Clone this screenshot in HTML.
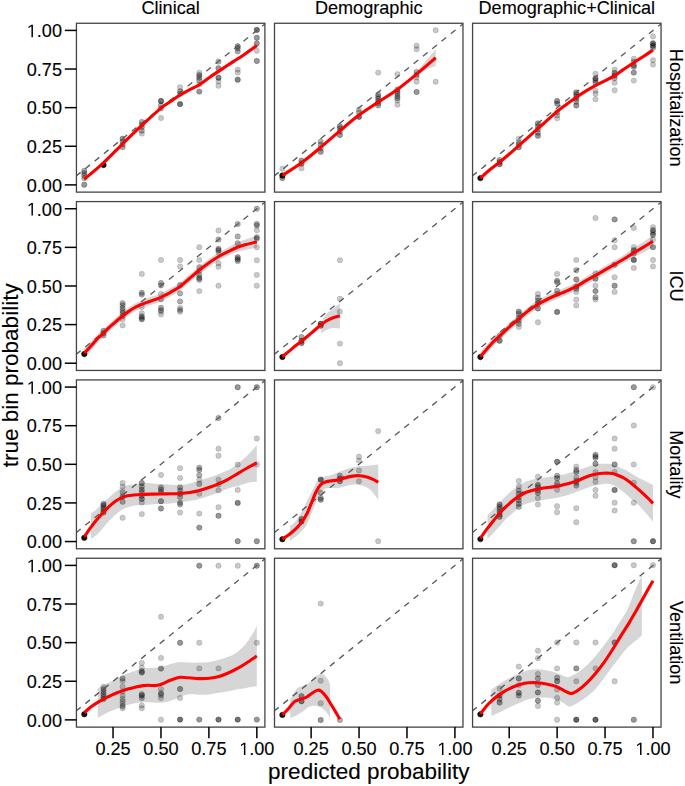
<!DOCTYPE html><html><head><meta charset="utf-8"><style>html,body{margin:0;padding:0;background:#fff;}svg{display:block;}text{font-family:"Liberation Sans",sans-serif;stroke:#000;stroke-width:0.12px;}</style></head><body>
<svg width="685" height="786" viewBox="0 0 685 786">
<rect width="685" height="786" fill="#fff"/>
<defs>
<clipPath id="cp00"><rect x="76.43" y="23.26" width="188.47" height="168.86"/></clipPath>
<clipPath id="cp01"><rect x="274.50" y="23.26" width="188.47" height="168.86"/></clipPath>
<clipPath id="cp02"><rect x="472.57" y="23.26" width="188.47" height="168.86"/></clipPath>
<clipPath id="cp10"><rect x="76.43" y="201.59" width="188.47" height="168.86"/></clipPath>
<clipPath id="cp11"><rect x="274.50" y="201.59" width="188.47" height="168.86"/></clipPath>
<clipPath id="cp12"><rect x="472.57" y="201.59" width="188.47" height="168.86"/></clipPath>
<clipPath id="cp20"><rect x="76.43" y="379.92" width="188.47" height="168.86"/></clipPath>
<clipPath id="cp21"><rect x="274.50" y="379.92" width="188.47" height="168.86"/></clipPath>
<clipPath id="cp22"><rect x="472.57" y="379.92" width="188.47" height="168.86"/></clipPath>
<clipPath id="cp30"><rect x="76.43" y="558.25" width="188.47" height="168.86"/></clipPath>
<clipPath id="cp31"><rect x="274.50" y="558.25" width="188.47" height="168.86"/></clipPath>
<clipPath id="cp32"><rect x="472.57" y="558.25" width="188.47" height="168.86"/></clipPath>
</defs>
<g>
<g clip-path="url(#cp00)">
<path d="M84.29,177.63 C87.49,174.90 97.07,167.15 103.46,161.25 C109.85,155.36 116.24,148.48 122.63,142.25 C129.02,136.02 135.41,129.82 141.80,123.87 C148.19,117.92 156.18,110.56 160.98,106.57 C165.77,102.58 167.37,102.11 170.56,99.93 C173.76,97.74 176.95,95.39 180.15,93.44 C183.34,91.48 186.54,89.88 189.73,88.19 C192.93,86.49 195.96,85.33 199.32,83.24 C202.67,81.16 206.15,78.25 209.86,75.67 C213.57,73.10 217.66,70.39 221.56,67.79 C225.45,65.19 229.51,62.52 233.25,60.07 C236.99,57.62 240.06,55.80 243.99,53.12 C247.92,50.44 254.69,45.52 256.83,44.00 L256.83,47.09 C254.69,48.61 247.92,53.53 243.99,56.21 C240.06,58.89 236.99,60.71 233.25,63.16 C229.51,65.61 225.45,68.28 221.56,70.88 C217.66,73.48 213.57,76.19 209.86,78.76 C206.15,81.34 202.67,84.25 199.32,86.33 C195.96,88.42 192.93,89.58 189.73,91.28 C186.54,92.97 183.34,94.57 180.15,96.53 C176.95,98.48 173.76,100.83 170.56,103.02 C167.37,105.20 165.77,105.67 160.98,109.66 C156.18,113.65 148.19,121.01 141.80,126.96 C135.41,132.91 129.02,139.11 122.63,145.34 C116.24,151.57 109.85,158.45 103.46,164.34 C97.07,170.24 87.49,177.99 84.29,180.72Z" fill="#999" fill-opacity="0.4"/>
<circle cx="84.3" cy="170.8" r="2.7" fill="#000" fill-opacity="0.314" stroke="#000" stroke-opacity="0.314" stroke-width="0.6"/>
<circle cx="84.3" cy="173.0" r="2.7" fill="#000" fill-opacity="0.314" stroke="#000" stroke-opacity="0.314" stroke-width="0.6"/>
<circle cx="84.3" cy="175.2" r="2.7" fill="#000" fill-opacity="0.314" stroke="#000" stroke-opacity="0.314" stroke-width="0.6"/>
<circle cx="84.3" cy="178.1" r="2.7" fill="#000" fill-opacity="0.314" stroke="#000" stroke-opacity="0.314" stroke-width="0.6"/>
<circle cx="84.3" cy="184.7" r="2.7" fill="#000" fill-opacity="0.405" stroke="#000" stroke-opacity="0.405" stroke-width="0.6"/>
<circle cx="103.5" cy="165.0" r="2.7" fill="#000" fill-opacity="0.930" stroke="#000" stroke-opacity="0.930" stroke-width="0.6"/>
<circle cx="122.6" cy="138.7" r="2.7" fill="#000" fill-opacity="0.405" stroke="#000" stroke-opacity="0.405" stroke-width="0.6"/>
<circle cx="122.6" cy="141.6" r="2.7" fill="#000" fill-opacity="0.314" stroke="#000" stroke-opacity="0.314" stroke-width="0.6"/>
<circle cx="122.6" cy="144.6" r="2.7" fill="#000" fill-opacity="0.314" stroke="#000" stroke-opacity="0.314" stroke-width="0.6"/>
<circle cx="122.6" cy="147.2" r="2.7" fill="#000" fill-opacity="0.314" stroke="#000" stroke-opacity="0.314" stroke-width="0.6"/>
<circle cx="141.8" cy="121.9" r="2.7" fill="#000" fill-opacity="0.314" stroke="#000" stroke-opacity="0.314" stroke-width="0.6"/>
<circle cx="141.8" cy="124.8" r="2.7" fill="#000" fill-opacity="0.314" stroke="#000" stroke-opacity="0.314" stroke-width="0.6"/>
<circle cx="141.8" cy="127.0" r="2.7" fill="#000" fill-opacity="0.314" stroke="#000" stroke-opacity="0.314" stroke-width="0.6"/>
<circle cx="141.8" cy="130.7" r="2.7" fill="#000" fill-opacity="0.314" stroke="#000" stroke-opacity="0.314" stroke-width="0.6"/>
<circle cx="141.8" cy="133.6" r="2.7" fill="#000" fill-opacity="0.210" stroke="#000" stroke-opacity="0.210" stroke-width="0.6"/>
<circle cx="161.0" cy="101.0" r="2.7" fill="#000" fill-opacity="0.551" stroke="#000" stroke-opacity="0.551" stroke-width="0.6"/>
<circle cx="161.0" cy="105.2" r="2.7" fill="#000" fill-opacity="0.314" stroke="#000" stroke-opacity="0.314" stroke-width="0.6"/>
<circle cx="161.0" cy="108.4" r="2.7" fill="#000" fill-opacity="0.314" stroke="#000" stroke-opacity="0.314" stroke-width="0.6"/>
<circle cx="161.0" cy="118.0" r="2.7" fill="#000" fill-opacity="0.210" stroke="#000" stroke-opacity="0.210" stroke-width="0.6"/>
<circle cx="180.1" cy="87.3" r="2.7" fill="#000" fill-opacity="0.210" stroke="#000" stroke-opacity="0.210" stroke-width="0.6"/>
<circle cx="180.1" cy="91.3" r="2.7" fill="#000" fill-opacity="0.314" stroke="#000" stroke-opacity="0.314" stroke-width="0.6"/>
<circle cx="180.1" cy="93.7" r="2.7" fill="#000" fill-opacity="0.314" stroke="#000" stroke-opacity="0.314" stroke-width="0.6"/>
<circle cx="180.1" cy="104.1" r="2.7" fill="#000" fill-opacity="0.551" stroke="#000" stroke-opacity="0.551" stroke-width="0.6"/>
<circle cx="199.3" cy="72.6" r="2.7" fill="#000" fill-opacity="0.210" stroke="#000" stroke-opacity="0.210" stroke-width="0.6"/>
<circle cx="199.3" cy="75.2" r="2.7" fill="#000" fill-opacity="0.405" stroke="#000" stroke-opacity="0.405" stroke-width="0.6"/>
<circle cx="199.3" cy="77.7" r="2.7" fill="#000" fill-opacity="0.314" stroke="#000" stroke-opacity="0.314" stroke-width="0.6"/>
<circle cx="199.3" cy="80.6" r="2.7" fill="#000" fill-opacity="0.314" stroke="#000" stroke-opacity="0.314" stroke-width="0.6"/>
<circle cx="199.3" cy="84.5" r="2.7" fill="#000" fill-opacity="0.210" stroke="#000" stroke-opacity="0.210" stroke-width="0.6"/>
<circle cx="199.3" cy="91.6" r="2.7" fill="#000" fill-opacity="0.405" stroke="#000" stroke-opacity="0.405" stroke-width="0.6"/>
<circle cx="218.5" cy="61.6" r="2.7" fill="#000" fill-opacity="0.314" stroke="#000" stroke-opacity="0.314" stroke-width="0.6"/>
<circle cx="218.5" cy="68.3" r="2.7" fill="#000" fill-opacity="0.405" stroke="#000" stroke-opacity="0.405" stroke-width="0.6"/>
<circle cx="218.5" cy="77.7" r="2.7" fill="#000" fill-opacity="0.483" stroke="#000" stroke-opacity="0.483" stroke-width="0.6"/>
<circle cx="218.5" cy="81.4" r="2.7" fill="#000" fill-opacity="0.210" stroke="#000" stroke-opacity="0.210" stroke-width="0.6"/>
<circle cx="218.5" cy="85.7" r="2.7" fill="#000" fill-opacity="0.210" stroke="#000" stroke-opacity="0.210" stroke-width="0.6"/>
<circle cx="237.7" cy="46.3" r="2.7" fill="#000" fill-opacity="0.405" stroke="#000" stroke-opacity="0.405" stroke-width="0.6"/>
<circle cx="237.7" cy="48.5" r="2.7" fill="#000" fill-opacity="0.314" stroke="#000" stroke-opacity="0.314" stroke-width="0.6"/>
<circle cx="237.7" cy="51.4" r="2.7" fill="#000" fill-opacity="0.314" stroke="#000" stroke-opacity="0.314" stroke-width="0.6"/>
<circle cx="237.7" cy="69.6" r="2.7" fill="#000" fill-opacity="0.210" stroke="#000" stroke-opacity="0.210" stroke-width="0.6"/>
<circle cx="237.7" cy="72.6" r="2.7" fill="#000" fill-opacity="0.210" stroke="#000" stroke-opacity="0.210" stroke-width="0.6"/>
<circle cx="237.7" cy="79.7" r="2.7" fill="#000" fill-opacity="0.483" stroke="#000" stroke-opacity="0.483" stroke-width="0.6"/>
<circle cx="256.8" cy="29.9" r="2.7" fill="#000" fill-opacity="0.551" stroke="#000" stroke-opacity="0.551" stroke-width="0.6"/>
<circle cx="256.8" cy="37.7" r="2.7" fill="#000" fill-opacity="0.405" stroke="#000" stroke-opacity="0.405" stroke-width="0.6"/>
<circle cx="256.8" cy="43.4" r="2.7" fill="#000" fill-opacity="0.405" stroke="#000" stroke-opacity="0.405" stroke-width="0.6"/>
<circle cx="256.8" cy="50.8" r="2.7" fill="#000" fill-opacity="0.210" stroke="#000" stroke-opacity="0.210" stroke-width="0.6"/>
<circle cx="256.8" cy="61.0" r="2.7" fill="#000" fill-opacity="0.405" stroke="#000" stroke-opacity="0.405" stroke-width="0.6"/>
<line x1="76.43" y1="175.78" x2="264.90" y2="23.91" stroke="#5a5a5a" stroke-width="1.35" stroke-dasharray="6,5.95" stroke-dashoffset="0.6"/>
<path d="M84.29,179.17 C87.49,176.45 97.07,168.70 103.46,162.80 C109.85,156.90 116.24,150.03 122.63,143.80 C129.02,137.57 135.41,131.36 141.80,125.42 C148.19,119.47 156.18,112.10 160.98,108.11 C165.77,104.12 167.37,103.66 170.56,101.47 C173.76,99.28 176.95,96.94 180.15,94.98 C183.34,93.03 186.54,91.43 189.73,89.73 C192.93,88.03 195.96,86.87 199.32,84.79 C202.67,82.70 206.15,79.79 209.86,77.22 C213.57,74.64 217.66,71.94 221.56,69.34 C225.45,66.74 229.51,64.06 233.25,61.61 C236.99,59.17 240.06,57.34 243.99,54.66 C247.92,51.99 254.69,47.07 256.83,45.55" fill="none" stroke="#f00" stroke-width="3.1" stroke-linejoin="round" stroke-linecap="butt"/>
</g>
<rect x="76.43" y="23.26" width="188.47" height="168.86" fill="none" stroke="#444" stroke-width="1.3"/>
<g clip-path="url(#cp01)">
<path d="M282.36,174.08 C285.56,172.02 295.14,166.35 301.53,161.72 C307.92,157.08 314.31,151.68 320.70,146.27 C327.09,140.86 333.48,134.81 339.87,129.28 C346.26,123.74 352.65,117.87 359.05,113.06 C365.44,108.24 371.83,104.59 378.22,100.39 C384.61,96.19 392.69,91.09 397.39,87.88 C402.08,84.66 403.27,83.73 406.40,81.08 C409.53,78.43 413.01,75.21 416.17,71.97 C419.34,68.72 422.12,65.40 425.38,61.61 C428.64,57.83 434.00,51.32 435.73,49.26 L435.73,66.09 C434.00,66.74 428.64,68.28 425.38,69.96 C422.12,71.63 419.34,73.79 416.17,76.14 C413.01,78.48 409.53,81.54 406.40,84.01 C403.27,86.49 402.08,87.77 397.39,90.97 C392.69,94.16 384.61,98.97 378.22,103.17 C371.83,107.37 365.44,111.33 359.05,116.15 C352.65,120.96 346.26,126.63 339.87,132.06 C333.48,137.49 327.09,143.33 320.70,148.74 C314.31,154.15 307.92,159.81 301.53,164.50 C295.14,169.18 285.56,174.80 282.36,176.86Z" fill="#999" fill-opacity="0.4"/>
<circle cx="282.4" cy="168.7" r="2.7" fill="#000" fill-opacity="0.210" stroke="#000" stroke-opacity="0.210" stroke-width="0.6"/>
<circle cx="282.4" cy="175.5" r="2.7" fill="#000" fill-opacity="0.930" stroke="#000" stroke-opacity="0.930" stroke-width="0.6"/>
<circle cx="282.4" cy="178.1" r="2.7" fill="#000" fill-opacity="0.405" stroke="#000" stroke-opacity="0.405" stroke-width="0.6"/>
<circle cx="301.5" cy="160.6" r="2.7" fill="#000" fill-opacity="0.405" stroke="#000" stroke-opacity="0.405" stroke-width="0.6"/>
<circle cx="301.5" cy="163.6" r="2.7" fill="#000" fill-opacity="0.483" stroke="#000" stroke-opacity="0.483" stroke-width="0.6"/>
<circle cx="301.5" cy="168.2" r="2.7" fill="#000" fill-opacity="0.210" stroke="#000" stroke-opacity="0.210" stroke-width="0.6"/>
<circle cx="320.7" cy="141.6" r="2.7" fill="#000" fill-opacity="0.314" stroke="#000" stroke-opacity="0.314" stroke-width="0.6"/>
<circle cx="320.7" cy="144.6" r="2.7" fill="#000" fill-opacity="0.314" stroke="#000" stroke-opacity="0.314" stroke-width="0.6"/>
<circle cx="320.7" cy="148.3" r="2.7" fill="#000" fill-opacity="0.314" stroke="#000" stroke-opacity="0.314" stroke-width="0.6"/>
<circle cx="320.7" cy="151.8" r="2.7" fill="#000" fill-opacity="0.405" stroke="#000" stroke-opacity="0.405" stroke-width="0.6"/>
<circle cx="339.9" cy="126.3" r="2.7" fill="#000" fill-opacity="0.405" stroke="#000" stroke-opacity="0.405" stroke-width="0.6"/>
<circle cx="339.9" cy="128.5" r="2.7" fill="#000" fill-opacity="0.314" stroke="#000" stroke-opacity="0.314" stroke-width="0.6"/>
<circle cx="339.9" cy="131.4" r="2.7" fill="#000" fill-opacity="0.314" stroke="#000" stroke-opacity="0.314" stroke-width="0.6"/>
<circle cx="339.9" cy="135.0" r="2.7" fill="#000" fill-opacity="0.405" stroke="#000" stroke-opacity="0.405" stroke-width="0.6"/>
<circle cx="359.0" cy="109.5" r="2.7" fill="#000" fill-opacity="0.210" stroke="#000" stroke-opacity="0.210" stroke-width="0.6"/>
<circle cx="359.0" cy="112.4" r="2.7" fill="#000" fill-opacity="0.314" stroke="#000" stroke-opacity="0.314" stroke-width="0.6"/>
<circle cx="359.0" cy="116.8" r="2.7" fill="#000" fill-opacity="0.551" stroke="#000" stroke-opacity="0.551" stroke-width="0.6"/>
<circle cx="378.2" cy="72.6" r="2.7" fill="#000" fill-opacity="0.210" stroke="#000" stroke-opacity="0.210" stroke-width="0.6"/>
<circle cx="378.2" cy="94.5" r="2.7" fill="#000" fill-opacity="0.314" stroke="#000" stroke-opacity="0.314" stroke-width="0.6"/>
<circle cx="378.2" cy="96.7" r="2.7" fill="#000" fill-opacity="0.314" stroke="#000" stroke-opacity="0.314" stroke-width="0.6"/>
<circle cx="378.2" cy="98.8" r="2.7" fill="#000" fill-opacity="0.314" stroke="#000" stroke-opacity="0.314" stroke-width="0.6"/>
<circle cx="378.2" cy="101.2" r="2.7" fill="#000" fill-opacity="0.314" stroke="#000" stroke-opacity="0.314" stroke-width="0.6"/>
<circle cx="378.2" cy="103.3" r="2.7" fill="#000" fill-opacity="0.314" stroke="#000" stroke-opacity="0.314" stroke-width="0.6"/>
<circle cx="378.2" cy="105.5" r="2.7" fill="#000" fill-opacity="0.314" stroke="#000" stroke-opacity="0.314" stroke-width="0.6"/>
<circle cx="397.4" cy="74.1" r="2.7" fill="#000" fill-opacity="0.210" stroke="#000" stroke-opacity="0.210" stroke-width="0.6"/>
<circle cx="397.4" cy="89.4" r="2.7" fill="#000" fill-opacity="0.314" stroke="#000" stroke-opacity="0.314" stroke-width="0.6"/>
<circle cx="397.4" cy="91.6" r="2.7" fill="#000" fill-opacity="0.314" stroke="#000" stroke-opacity="0.314" stroke-width="0.6"/>
<circle cx="397.4" cy="93.7" r="2.7" fill="#000" fill-opacity="0.314" stroke="#000" stroke-opacity="0.314" stroke-width="0.6"/>
<circle cx="397.4" cy="96.1" r="2.7" fill="#000" fill-opacity="0.314" stroke="#000" stroke-opacity="0.314" stroke-width="0.6"/>
<circle cx="397.4" cy="98.2" r="2.7" fill="#000" fill-opacity="0.314" stroke="#000" stroke-opacity="0.314" stroke-width="0.6"/>
<circle cx="397.4" cy="100.4" r="2.7" fill="#000" fill-opacity="0.210" stroke="#000" stroke-opacity="0.210" stroke-width="0.6"/>
<circle cx="397.4" cy="104.7" r="2.7" fill="#000" fill-opacity="0.210" stroke="#000" stroke-opacity="0.210" stroke-width="0.6"/>
<circle cx="416.6" cy="45.7" r="2.7" fill="#000" fill-opacity="0.210" stroke="#000" stroke-opacity="0.210" stroke-width="0.6"/>
<circle cx="416.6" cy="49.3" r="2.7" fill="#000" fill-opacity="0.210" stroke="#000" stroke-opacity="0.210" stroke-width="0.6"/>
<circle cx="416.6" cy="72.0" r="2.7" fill="#000" fill-opacity="0.314" stroke="#000" stroke-opacity="0.314" stroke-width="0.6"/>
<circle cx="416.6" cy="74.9" r="2.7" fill="#000" fill-opacity="0.314" stroke="#000" stroke-opacity="0.314" stroke-width="0.6"/>
<circle cx="416.6" cy="77.4" r="2.7" fill="#000" fill-opacity="0.210" stroke="#000" stroke-opacity="0.210" stroke-width="0.6"/>
<circle cx="416.6" cy="81.7" r="2.7" fill="#000" fill-opacity="0.210" stroke="#000" stroke-opacity="0.210" stroke-width="0.6"/>
<circle cx="416.6" cy="92.0" r="2.7" fill="#000" fill-opacity="0.405" stroke="#000" stroke-opacity="0.405" stroke-width="0.6"/>
<circle cx="435.7" cy="30.3" r="2.7" fill="#000" fill-opacity="0.210" stroke="#000" stroke-opacity="0.210" stroke-width="0.6"/>
<circle cx="435.7" cy="81.7" r="2.7" fill="#000" fill-opacity="0.210" stroke="#000" stroke-opacity="0.210" stroke-width="0.6"/>
<line x1="274.50" y1="175.78" x2="462.97" y2="23.91" stroke="#5a5a5a" stroke-width="1.35" stroke-dasharray="6,5.95" stroke-dashoffset="0.6"/>
<path d="M282.36,175.47 C285.56,173.36 295.14,167.49 301.53,162.80 C307.92,158.11 314.31,152.68 320.70,147.35 C327.09,142.02 333.48,136.20 339.87,130.82 C346.26,125.44 352.65,119.85 359.05,115.07 C365.44,110.28 371.83,106.36 378.22,102.09 C384.61,97.81 391.00,94.08 397.39,89.42 C403.78,84.76 410.17,79.41 416.56,74.13 C422.95,68.85 432.53,60.48 435.73,57.75" fill="none" stroke="#f00" stroke-width="3.1" stroke-linejoin="round" stroke-linecap="butt"/>
</g>
<rect x="274.50" y="23.26" width="188.47" height="168.86" fill="none" stroke="#444" stroke-width="1.3"/>
<g clip-path="url(#cp02)">
<path d="M480.43,176.55 C481.93,175.21 486.28,171.14 489.44,168.52 C492.60,165.89 496.25,163.34 499.41,160.79 C502.57,158.24 505.19,156.00 508.42,153.22 C511.65,150.44 515.35,147.15 518.77,144.11 C522.19,141.07 525.74,137.85 528.93,134.99 C532.13,132.14 534.78,129.77 537.94,126.96 C541.11,124.15 544.72,120.99 547.91,118.15 C551.11,115.32 553.98,112.54 557.12,109.97 C560.25,107.39 563.51,105.08 566.70,102.71 C569.90,100.34 573.19,97.89 576.29,95.76 C579.39,93.62 582.13,91.82 585.30,89.88 C588.46,87.95 592.10,85.89 595.27,84.17 C598.43,82.44 601.11,81.18 604.28,79.53 C607.44,77.89 611.08,76.19 614.24,74.28 C617.41,72.38 620.03,70.29 623.25,68.10 C626.48,65.91 630.19,63.39 633.61,61.15 C637.03,58.91 640.54,56.77 643.77,54.66 C647.00,52.55 651.44,49.51 652.97,48.48 L652.97,51.57 C651.44,52.60 647.00,55.64 643.77,57.75 C640.54,59.86 637.03,62.00 633.61,64.24 C630.19,66.48 626.48,69.00 623.25,71.19 C620.03,73.38 617.41,75.47 614.24,77.37 C611.08,79.28 607.44,80.98 604.28,82.62 C601.11,84.27 598.43,85.53 595.27,87.26 C592.10,88.98 588.46,91.04 585.30,92.97 C582.13,94.91 579.39,96.71 576.29,98.84 C573.19,100.98 569.90,103.43 566.70,105.80 C563.51,108.16 560.25,110.48 557.12,113.06 C553.98,115.63 551.11,118.41 547.91,121.24 C544.72,124.08 541.11,127.24 537.94,130.05 C534.78,132.86 532.13,135.22 528.93,138.08 C525.74,140.94 522.19,144.16 518.77,147.20 C515.35,150.23 511.65,153.53 508.42,156.31 C505.19,159.09 502.57,161.33 499.41,163.88 C496.25,166.43 492.60,168.98 489.44,171.60 C486.28,174.23 481.93,178.30 480.43,179.64Z" fill="#999" fill-opacity="0.4"/>
<circle cx="480.4" cy="178.1" r="2.7" fill="#000" fill-opacity="0.930" stroke="#000" stroke-opacity="0.930" stroke-width="0.6"/>
<circle cx="499.6" cy="159.9" r="2.7" fill="#000" fill-opacity="0.314" stroke="#000" stroke-opacity="0.314" stroke-width="0.6"/>
<circle cx="499.6" cy="162.0" r="2.7" fill="#000" fill-opacity="0.405" stroke="#000" stroke-opacity="0.405" stroke-width="0.6"/>
<circle cx="499.6" cy="164.2" r="2.7" fill="#000" fill-opacity="0.483" stroke="#000" stroke-opacity="0.483" stroke-width="0.6"/>
<circle cx="518.8" cy="138.7" r="2.7" fill="#000" fill-opacity="0.210" stroke="#000" stroke-opacity="0.210" stroke-width="0.6"/>
<circle cx="518.8" cy="142.4" r="2.7" fill="#000" fill-opacity="0.314" stroke="#000" stroke-opacity="0.314" stroke-width="0.6"/>
<circle cx="518.8" cy="144.6" r="2.7" fill="#000" fill-opacity="0.314" stroke="#000" stroke-opacity="0.314" stroke-width="0.6"/>
<circle cx="518.8" cy="147.2" r="2.7" fill="#000" fill-opacity="0.405" stroke="#000" stroke-opacity="0.405" stroke-width="0.6"/>
<circle cx="537.9" cy="123.4" r="2.7" fill="#000" fill-opacity="0.405" stroke="#000" stroke-opacity="0.405" stroke-width="0.6"/>
<circle cx="537.9" cy="126.3" r="2.7" fill="#000" fill-opacity="0.314" stroke="#000" stroke-opacity="0.314" stroke-width="0.6"/>
<circle cx="537.9" cy="129.3" r="2.7" fill="#000" fill-opacity="0.314" stroke="#000" stroke-opacity="0.314" stroke-width="0.6"/>
<circle cx="537.9" cy="132.8" r="2.7" fill="#000" fill-opacity="0.314" stroke="#000" stroke-opacity="0.314" stroke-width="0.6"/>
<circle cx="537.9" cy="135.8" r="2.7" fill="#000" fill-opacity="0.405" stroke="#000" stroke-opacity="0.405" stroke-width="0.6"/>
<circle cx="557.1" cy="101.0" r="2.7" fill="#000" fill-opacity="0.405" stroke="#000" stroke-opacity="0.405" stroke-width="0.6"/>
<circle cx="557.1" cy="103.6" r="2.7" fill="#000" fill-opacity="0.405" stroke="#000" stroke-opacity="0.405" stroke-width="0.6"/>
<circle cx="557.1" cy="112.4" r="2.7" fill="#000" fill-opacity="0.314" stroke="#000" stroke-opacity="0.314" stroke-width="0.6"/>
<circle cx="557.1" cy="115.4" r="2.7" fill="#000" fill-opacity="0.210" stroke="#000" stroke-opacity="0.210" stroke-width="0.6"/>
<circle cx="557.1" cy="118.3" r="2.7" fill="#000" fill-opacity="0.210" stroke="#000" stroke-opacity="0.210" stroke-width="0.6"/>
<circle cx="576.3" cy="92.4" r="2.7" fill="#000" fill-opacity="0.405" stroke="#000" stroke-opacity="0.405" stroke-width="0.6"/>
<circle cx="576.3" cy="94.5" r="2.7" fill="#000" fill-opacity="0.314" stroke="#000" stroke-opacity="0.314" stroke-width="0.6"/>
<circle cx="576.3" cy="96.7" r="2.7" fill="#000" fill-opacity="0.314" stroke="#000" stroke-opacity="0.314" stroke-width="0.6"/>
<circle cx="576.3" cy="98.8" r="2.7" fill="#000" fill-opacity="0.314" stroke="#000" stroke-opacity="0.314" stroke-width="0.6"/>
<circle cx="576.3" cy="101.8" r="2.7" fill="#000" fill-opacity="0.314" stroke="#000" stroke-opacity="0.314" stroke-width="0.6"/>
<circle cx="576.3" cy="105.5" r="2.7" fill="#000" fill-opacity="0.405" stroke="#000" stroke-opacity="0.405" stroke-width="0.6"/>
<circle cx="595.5" cy="73.8" r="2.7" fill="#000" fill-opacity="0.210" stroke="#000" stroke-opacity="0.210" stroke-width="0.6"/>
<circle cx="595.5" cy="78.5" r="2.7" fill="#000" fill-opacity="0.483" stroke="#000" stroke-opacity="0.483" stroke-width="0.6"/>
<circle cx="595.5" cy="80.6" r="2.7" fill="#000" fill-opacity="0.314" stroke="#000" stroke-opacity="0.314" stroke-width="0.6"/>
<circle cx="595.5" cy="82.8" r="2.7" fill="#000" fill-opacity="0.314" stroke="#000" stroke-opacity="0.314" stroke-width="0.6"/>
<circle cx="595.5" cy="90.8" r="2.7" fill="#000" fill-opacity="0.210" stroke="#000" stroke-opacity="0.210" stroke-width="0.6"/>
<circle cx="595.5" cy="93.7" r="2.7" fill="#000" fill-opacity="0.210" stroke="#000" stroke-opacity="0.210" stroke-width="0.6"/>
<circle cx="595.5" cy="99.2" r="2.7" fill="#000" fill-opacity="0.210" stroke="#000" stroke-opacity="0.210" stroke-width="0.6"/>
<circle cx="614.6" cy="69.6" r="2.7" fill="#000" fill-opacity="0.210" stroke="#000" stroke-opacity="0.210" stroke-width="0.6"/>
<circle cx="614.6" cy="72.9" r="2.7" fill="#000" fill-opacity="0.405" stroke="#000" stroke-opacity="0.405" stroke-width="0.6"/>
<circle cx="614.6" cy="75.5" r="2.7" fill="#000" fill-opacity="0.405" stroke="#000" stroke-opacity="0.405" stroke-width="0.6"/>
<circle cx="614.6" cy="78.1" r="2.7" fill="#000" fill-opacity="0.314" stroke="#000" stroke-opacity="0.314" stroke-width="0.6"/>
<circle cx="614.6" cy="82.8" r="2.7" fill="#000" fill-opacity="0.210" stroke="#000" stroke-opacity="0.210" stroke-width="0.6"/>
<circle cx="614.6" cy="90.2" r="2.7" fill="#000" fill-opacity="0.210" stroke="#000" stroke-opacity="0.210" stroke-width="0.6"/>
<circle cx="633.8" cy="58.8" r="2.7" fill="#000" fill-opacity="0.210" stroke="#000" stroke-opacity="0.210" stroke-width="0.6"/>
<circle cx="633.8" cy="61.6" r="2.7" fill="#000" fill-opacity="0.314" stroke="#000" stroke-opacity="0.314" stroke-width="0.6"/>
<circle cx="633.8" cy="65.3" r="2.7" fill="#000" fill-opacity="0.405" stroke="#000" stroke-opacity="0.405" stroke-width="0.6"/>
<circle cx="633.8" cy="66.9" r="2.7" fill="#000" fill-opacity="0.314" stroke="#000" stroke-opacity="0.314" stroke-width="0.6"/>
<circle cx="633.8" cy="72.6" r="2.7" fill="#000" fill-opacity="0.405" stroke="#000" stroke-opacity="0.405" stroke-width="0.6"/>
<circle cx="633.8" cy="80.6" r="2.7" fill="#000" fill-opacity="0.210" stroke="#000" stroke-opacity="0.210" stroke-width="0.6"/>
<circle cx="653.0" cy="36.4" r="2.7" fill="#000" fill-opacity="0.210" stroke="#000" stroke-opacity="0.210" stroke-width="0.6"/>
<circle cx="653.0" cy="43.4" r="2.7" fill="#000" fill-opacity="0.551" stroke="#000" stroke-opacity="0.551" stroke-width="0.6"/>
<circle cx="653.0" cy="45.7" r="2.7" fill="#000" fill-opacity="0.483" stroke="#000" stroke-opacity="0.483" stroke-width="0.6"/>
<circle cx="653.0" cy="47.9" r="2.7" fill="#000" fill-opacity="0.314" stroke="#000" stroke-opacity="0.314" stroke-width="0.6"/>
<circle cx="653.0" cy="60.2" r="2.7" fill="#000" fill-opacity="0.210" stroke="#000" stroke-opacity="0.210" stroke-width="0.6"/>
<circle cx="653.0" cy="64.6" r="2.7" fill="#000" fill-opacity="0.210" stroke="#000" stroke-opacity="0.210" stroke-width="0.6"/>
<line x1="472.57" y1="175.78" x2="661.04" y2="23.91" stroke="#5a5a5a" stroke-width="1.35" stroke-dasharray="6,5.95" stroke-dashoffset="0.6"/>
<path d="M480.43,178.09 C481.93,176.75 486.28,172.69 489.44,170.06 C492.60,167.43 496.25,164.88 499.41,162.34 C502.57,159.79 505.19,157.55 508.42,154.77 C511.65,151.99 515.35,148.69 518.77,145.65 C522.19,142.61 525.74,139.40 528.93,136.54 C532.13,133.68 534.78,131.31 537.94,128.50 C541.11,125.70 544.72,122.53 547.91,119.70 C551.11,116.87 553.98,114.09 557.12,111.51 C560.25,108.94 563.51,106.62 566.70,104.25 C569.90,101.88 573.19,99.44 576.29,97.30 C579.39,95.16 582.13,93.36 585.30,91.43 C588.46,89.50 592.10,87.44 595.27,85.71 C598.43,83.99 601.11,82.73 604.28,81.08 C607.44,79.43 611.08,77.73 614.24,75.83 C617.41,73.92 620.03,71.84 623.25,69.65 C626.48,67.46 630.19,64.94 633.61,62.70 C637.03,60.46 640.54,58.32 643.77,56.21 C647.00,54.10 651.44,51.06 652.97,50.03" fill="none" stroke="#f00" stroke-width="3.1" stroke-linejoin="round" stroke-linecap="butt"/>
</g>
<rect x="472.57" y="23.26" width="188.47" height="168.86" fill="none" stroke="#444" stroke-width="1.3"/>
<g clip-path="url(#cp10)">
<path d="M84.29,348.39 C85.47,347.13 89.18,343.19 91.38,340.82 C93.59,338.45 95.51,336.13 97.52,334.18 C99.53,332.22 101.42,330.96 103.46,329.08 C105.51,327.20 107.71,324.83 109.79,322.90 C111.87,320.97 113.85,319.27 115.92,317.49 C118.00,315.72 120.17,313.89 122.25,312.24 C124.33,310.59 126.34,309.02 128.38,307.61 C130.43,306.19 132.47,304.90 134.52,303.75 C136.56,302.59 138.61,301.56 140.65,300.66 C142.70,299.75 144.74,299.06 146.79,298.34 C148.83,297.62 150.88,297.03 152.92,296.33 C154.97,295.64 156.89,295.09 159.06,294.17 C161.23,293.24 163.79,291.90 165.96,290.77 C168.13,289.64 169.73,288.76 172.09,287.37 C174.46,285.98 177.30,284.54 180.15,282.43 C182.99,280.32 185.99,277.41 189.16,274.70 C192.32,272.00 195.80,268.88 199.13,266.21 C202.45,263.53 205.84,260.93 209.09,258.64 C212.35,256.35 215.61,254.26 218.68,252.46 C221.75,250.66 224.37,249.47 227.50,247.82 C230.63,246.18 234.11,244.09 237.47,242.57 C240.82,241.05 244.40,239.84 247.63,238.71 C250.86,237.58 255.30,236.26 256.83,235.77 L256.83,247.82 C255.30,248.11 250.86,248.85 247.63,249.52 C244.40,250.19 240.82,250.78 237.47,251.84 C234.11,252.90 230.63,254.41 227.50,255.86 C224.37,257.30 221.75,258.69 218.68,260.49 C215.61,262.29 212.35,264.38 209.09,266.67 C205.84,268.96 202.45,271.56 199.13,274.24 C195.80,276.92 192.32,280.03 189.16,282.74 C185.99,285.44 182.99,288.35 180.15,290.46 C177.30,292.57 174.46,294.01 172.09,295.40 C169.73,296.79 168.13,297.67 165.96,298.80 C163.79,299.93 161.23,301.27 159.06,302.20 C156.89,303.13 154.97,303.67 152.92,304.36 C150.88,305.06 148.83,305.65 146.79,306.37 C144.74,307.09 142.70,307.79 140.65,308.69 C138.61,309.59 136.56,310.62 134.52,311.78 C132.47,312.94 130.43,314.22 128.38,315.64 C126.34,317.06 124.33,318.63 122.25,320.27 C120.17,321.92 118.00,323.75 115.92,325.53 C113.85,327.30 111.87,329.00 109.79,330.93 C107.71,332.86 105.51,335.13 103.46,337.11 C101.42,339.10 99.53,340.67 97.52,342.83 C95.51,344.99 93.59,347.51 91.38,350.09 C89.18,352.66 85.47,356.91 84.29,358.28Z" fill="#999" fill-opacity="0.4"/>
<circle cx="84.3" cy="354.0" r="2.7" fill="#000" fill-opacity="0.930" stroke="#000" stroke-opacity="0.930" stroke-width="0.6"/>
<circle cx="103.5" cy="330.8" r="2.7" fill="#000" fill-opacity="0.314" stroke="#000" stroke-opacity="0.314" stroke-width="0.6"/>
<circle cx="103.5" cy="333.1" r="2.7" fill="#000" fill-opacity="0.314" stroke="#000" stroke-opacity="0.314" stroke-width="0.6"/>
<circle cx="103.5" cy="335.4" r="2.7" fill="#000" fill-opacity="0.314" stroke="#000" stroke-opacity="0.314" stroke-width="0.6"/>
<circle cx="122.6" cy="303.1" r="2.7" fill="#000" fill-opacity="0.314" stroke="#000" stroke-opacity="0.314" stroke-width="0.6"/>
<circle cx="122.6" cy="305.4" r="2.7" fill="#000" fill-opacity="0.314" stroke="#000" stroke-opacity="0.314" stroke-width="0.6"/>
<circle cx="122.6" cy="308.2" r="2.7" fill="#000" fill-opacity="0.314" stroke="#000" stroke-opacity="0.314" stroke-width="0.6"/>
<circle cx="122.6" cy="310.9" r="2.7" fill="#000" fill-opacity="0.314" stroke="#000" stroke-opacity="0.314" stroke-width="0.6"/>
<circle cx="122.6" cy="313.2" r="2.7" fill="#000" fill-opacity="0.314" stroke="#000" stroke-opacity="0.314" stroke-width="0.6"/>
<circle cx="122.6" cy="316.3" r="2.7" fill="#000" fill-opacity="0.210" stroke="#000" stroke-opacity="0.210" stroke-width="0.6"/>
<circle cx="122.6" cy="319.3" r="2.7" fill="#000" fill-opacity="0.210" stroke="#000" stroke-opacity="0.210" stroke-width="0.6"/>
<circle cx="122.6" cy="325.4" r="2.7" fill="#000" fill-opacity="0.210" stroke="#000" stroke-opacity="0.210" stroke-width="0.6"/>
<circle cx="141.8" cy="273.9" r="2.7" fill="#000" fill-opacity="0.210" stroke="#000" stroke-opacity="0.210" stroke-width="0.6"/>
<circle cx="141.8" cy="292.8" r="2.7" fill="#000" fill-opacity="0.314" stroke="#000" stroke-opacity="0.314" stroke-width="0.6"/>
<circle cx="141.8" cy="294.6" r="2.7" fill="#000" fill-opacity="0.314" stroke="#000" stroke-opacity="0.314" stroke-width="0.6"/>
<circle cx="141.8" cy="307.0" r="2.7" fill="#000" fill-opacity="0.210" stroke="#000" stroke-opacity="0.210" stroke-width="0.6"/>
<circle cx="141.8" cy="313.2" r="2.7" fill="#000" fill-opacity="0.210" stroke="#000" stroke-opacity="0.210" stroke-width="0.6"/>
<circle cx="141.8" cy="316.3" r="2.7" fill="#000" fill-opacity="0.314" stroke="#000" stroke-opacity="0.314" stroke-width="0.6"/>
<circle cx="141.8" cy="317.8" r="2.7" fill="#000" fill-opacity="0.314" stroke="#000" stroke-opacity="0.314" stroke-width="0.6"/>
<circle cx="141.8" cy="319.3" r="2.7" fill="#000" fill-opacity="0.405" stroke="#000" stroke-opacity="0.405" stroke-width="0.6"/>
<circle cx="161.0" cy="260.0" r="2.7" fill="#000" fill-opacity="0.210" stroke="#000" stroke-opacity="0.210" stroke-width="0.6"/>
<circle cx="161.0" cy="283.0" r="2.7" fill="#000" fill-opacity="0.314" stroke="#000" stroke-opacity="0.314" stroke-width="0.6"/>
<circle cx="161.0" cy="285.4" r="2.7" fill="#000" fill-opacity="0.314" stroke="#000" stroke-opacity="0.314" stroke-width="0.6"/>
<circle cx="161.0" cy="293.9" r="2.7" fill="#000" fill-opacity="0.210" stroke="#000" stroke-opacity="0.210" stroke-width="0.6"/>
<circle cx="161.0" cy="299.3" r="2.7" fill="#000" fill-opacity="0.314" stroke="#000" stroke-opacity="0.314" stroke-width="0.6"/>
<circle cx="161.0" cy="307.8" r="2.7" fill="#000" fill-opacity="0.314" stroke="#000" stroke-opacity="0.314" stroke-width="0.6"/>
<circle cx="161.0" cy="310.1" r="2.7" fill="#000" fill-opacity="0.314" stroke="#000" stroke-opacity="0.314" stroke-width="0.6"/>
<circle cx="161.0" cy="311.6" r="2.7" fill="#000" fill-opacity="0.210" stroke="#000" stroke-opacity="0.210" stroke-width="0.6"/>
<circle cx="161.0" cy="314.4" r="2.7" fill="#000" fill-opacity="0.210" stroke="#000" stroke-opacity="0.210" stroke-width="0.6"/>
<circle cx="180.1" cy="260.0" r="2.7" fill="#000" fill-opacity="0.210" stroke="#000" stroke-opacity="0.210" stroke-width="0.6"/>
<circle cx="180.1" cy="266.4" r="2.7" fill="#000" fill-opacity="0.210" stroke="#000" stroke-opacity="0.210" stroke-width="0.6"/>
<circle cx="180.1" cy="284.9" r="2.7" fill="#000" fill-opacity="0.314" stroke="#000" stroke-opacity="0.314" stroke-width="0.6"/>
<circle cx="180.1" cy="293.4" r="2.7" fill="#000" fill-opacity="0.314" stroke="#000" stroke-opacity="0.314" stroke-width="0.6"/>
<circle cx="180.1" cy="301.4" r="2.7" fill="#000" fill-opacity="0.314" stroke="#000" stroke-opacity="0.314" stroke-width="0.6"/>
<circle cx="180.1" cy="307.9" r="2.7" fill="#000" fill-opacity="0.210" stroke="#000" stroke-opacity="0.210" stroke-width="0.6"/>
<circle cx="180.1" cy="309.9" r="2.7" fill="#000" fill-opacity="0.314" stroke="#000" stroke-opacity="0.314" stroke-width="0.6"/>
<circle cx="180.1" cy="311.8" r="2.7" fill="#000" fill-opacity="0.210" stroke="#000" stroke-opacity="0.210" stroke-width="0.6"/>
<circle cx="199.3" cy="247.2" r="2.7" fill="#000" fill-opacity="0.210" stroke="#000" stroke-opacity="0.210" stroke-width="0.6"/>
<circle cx="199.3" cy="260.0" r="2.7" fill="#000" fill-opacity="0.210" stroke="#000" stroke-opacity="0.210" stroke-width="0.6"/>
<circle cx="199.3" cy="267.1" r="2.7" fill="#000" fill-opacity="0.314" stroke="#000" stroke-opacity="0.314" stroke-width="0.6"/>
<circle cx="199.3" cy="271.0" r="2.7" fill="#000" fill-opacity="0.210" stroke="#000" stroke-opacity="0.210" stroke-width="0.6"/>
<circle cx="199.3" cy="274.9" r="2.7" fill="#000" fill-opacity="0.314" stroke="#000" stroke-opacity="0.314" stroke-width="0.6"/>
<circle cx="199.3" cy="277.9" r="2.7" fill="#000" fill-opacity="0.405" stroke="#000" stroke-opacity="0.405" stroke-width="0.6"/>
<circle cx="199.3" cy="279.8" r="2.7" fill="#000" fill-opacity="0.314" stroke="#000" stroke-opacity="0.314" stroke-width="0.6"/>
<circle cx="199.3" cy="291.1" r="2.7" fill="#000" fill-opacity="0.210" stroke="#000" stroke-opacity="0.210" stroke-width="0.6"/>
<circle cx="218.5" cy="230.5" r="2.7" fill="#000" fill-opacity="0.210" stroke="#000" stroke-opacity="0.210" stroke-width="0.6"/>
<circle cx="218.5" cy="239.5" r="2.7" fill="#000" fill-opacity="0.314" stroke="#000" stroke-opacity="0.314" stroke-width="0.6"/>
<circle cx="218.5" cy="248.8" r="2.7" fill="#000" fill-opacity="0.314" stroke="#000" stroke-opacity="0.314" stroke-width="0.6"/>
<circle cx="218.5" cy="250.3" r="2.7" fill="#000" fill-opacity="0.405" stroke="#000" stroke-opacity="0.405" stroke-width="0.6"/>
<circle cx="218.5" cy="252.6" r="2.7" fill="#000" fill-opacity="0.210" stroke="#000" stroke-opacity="0.210" stroke-width="0.6"/>
<circle cx="218.5" cy="263.3" r="2.7" fill="#000" fill-opacity="0.210" stroke="#000" stroke-opacity="0.210" stroke-width="0.6"/>
<circle cx="218.5" cy="266.8" r="2.7" fill="#000" fill-opacity="0.210" stroke="#000" stroke-opacity="0.210" stroke-width="0.6"/>
<circle cx="218.5" cy="285.7" r="2.7" fill="#000" fill-opacity="0.210" stroke="#000" stroke-opacity="0.210" stroke-width="0.6"/>
<circle cx="237.7" cy="224.0" r="2.7" fill="#000" fill-opacity="0.314" stroke="#000" stroke-opacity="0.314" stroke-width="0.6"/>
<circle cx="237.7" cy="236.4" r="2.7" fill="#000" fill-opacity="0.314" stroke="#000" stroke-opacity="0.314" stroke-width="0.6"/>
<circle cx="237.7" cy="243.3" r="2.7" fill="#000" fill-opacity="0.314" stroke="#000" stroke-opacity="0.314" stroke-width="0.6"/>
<circle cx="237.7" cy="257.2" r="2.7" fill="#000" fill-opacity="0.405" stroke="#000" stroke-opacity="0.405" stroke-width="0.6"/>
<circle cx="237.7" cy="259.3" r="2.7" fill="#000" fill-opacity="0.405" stroke="#000" stroke-opacity="0.405" stroke-width="0.6"/>
<circle cx="237.7" cy="261.1" r="2.7" fill="#000" fill-opacity="0.314" stroke="#000" stroke-opacity="0.314" stroke-width="0.6"/>
<circle cx="256.8" cy="208.7" r="2.7" fill="#000" fill-opacity="0.314" stroke="#000" stroke-opacity="0.314" stroke-width="0.6"/>
<circle cx="256.8" cy="224.0" r="2.7" fill="#000" fill-opacity="0.314" stroke="#000" stroke-opacity="0.314" stroke-width="0.6"/>
<circle cx="256.8" cy="225.6" r="2.7" fill="#000" fill-opacity="0.314" stroke="#000" stroke-opacity="0.314" stroke-width="0.6"/>
<circle cx="256.8" cy="230.2" r="2.7" fill="#000" fill-opacity="0.210" stroke="#000" stroke-opacity="0.210" stroke-width="0.6"/>
<circle cx="256.8" cy="237.2" r="2.7" fill="#000" fill-opacity="0.314" stroke="#000" stroke-opacity="0.314" stroke-width="0.6"/>
<circle cx="256.8" cy="238.7" r="2.7" fill="#000" fill-opacity="0.314" stroke="#000" stroke-opacity="0.314" stroke-width="0.6"/>
<circle cx="256.8" cy="247.2" r="2.7" fill="#000" fill-opacity="0.210" stroke="#000" stroke-opacity="0.210" stroke-width="0.6"/>
<circle cx="256.8" cy="260.3" r="2.7" fill="#000" fill-opacity="0.210" stroke="#000" stroke-opacity="0.210" stroke-width="0.6"/>
<circle cx="256.8" cy="274.9" r="2.7" fill="#000" fill-opacity="0.210" stroke="#000" stroke-opacity="0.210" stroke-width="0.6"/>
<circle cx="256.8" cy="285.7" r="2.7" fill="#000" fill-opacity="0.210" stroke="#000" stroke-opacity="0.210" stroke-width="0.6"/>
<line x1="76.43" y1="354.11" x2="264.90" y2="202.24" stroke="#5a5a5a" stroke-width="1.35" stroke-dasharray="6,5.95" stroke-dashoffset="0.6"/>
<path d="M84.29,353.33 C85.47,352.02 89.18,347.93 91.38,345.45 C93.59,342.98 95.51,340.56 97.52,338.50 C99.53,336.44 101.42,335.03 103.46,333.10 C105.51,331.17 107.71,328.85 109.79,326.92 C111.87,324.99 113.85,323.29 115.92,321.51 C118.00,319.73 120.17,317.91 122.25,316.26 C124.33,314.61 126.34,313.04 128.38,311.62 C130.43,310.21 132.47,308.92 134.52,307.76 C136.56,306.60 138.61,305.57 140.65,304.67 C142.70,303.77 144.74,303.08 146.79,302.35 C148.83,301.63 150.88,301.04 152.92,300.35 C154.97,299.65 156.89,299.11 159.06,298.18 C161.23,297.26 163.79,295.92 165.96,294.79 C168.13,293.65 169.73,292.78 172.09,291.39 C174.46,290.00 177.30,288.55 180.15,286.44 C182.99,284.33 185.99,281.42 189.16,278.72 C192.32,276.02 195.80,272.90 199.13,270.22 C202.45,267.55 205.84,264.94 209.09,262.65 C212.35,260.36 215.61,258.28 218.68,256.47 C221.75,254.67 224.37,253.38 227.50,251.84 C230.63,250.30 234.11,248.49 237.47,247.21 C240.82,245.92 244.40,245.02 247.63,244.12 C250.86,243.21 255.30,242.18 256.83,241.80" fill="none" stroke="#f00" stroke-width="3.1" stroke-linejoin="round" stroke-linecap="butt"/>
</g>
<rect x="76.43" y="201.59" width="188.47" height="168.86" fill="none" stroke="#444" stroke-width="1.3"/>
<g clip-path="url(#cp11)">
<path d="M282.36,355.03 C285.56,352.43 295.21,344.61 301.53,339.43 C307.86,334.26 317.06,326.87 320.32,323.98 C323.58,321.10 320.10,323.75 321.09,322.13 C322.08,320.51 324.38,316.39 326.26,314.25 C328.15,312.11 330.13,311.16 332.40,309.31 C334.67,307.45 338.63,304.16 339.87,303.13 L339.87,328.46 C338.63,328.38 334.67,327.74 332.40,328.00 C330.13,328.26 328.15,329.21 326.26,330.01 C324.38,330.80 322.08,333.28 321.09,332.79 C320.10,332.30 323.58,325.45 320.32,327.07 C317.06,328.69 307.86,337.34 301.53,342.52 C295.21,347.69 285.56,355.52 282.36,358.12Z" fill="#999" fill-opacity="0.4"/>
<circle cx="282.4" cy="357.0" r="2.7" fill="#000" fill-opacity="0.930" stroke="#000" stroke-opacity="0.930" stroke-width="0.6"/>
<circle cx="301.5" cy="337.0" r="2.7" fill="#000" fill-opacity="0.314" stroke="#000" stroke-opacity="0.314" stroke-width="0.6"/>
<circle cx="301.5" cy="340.8" r="2.7" fill="#000" fill-opacity="0.483" stroke="#000" stroke-opacity="0.483" stroke-width="0.6"/>
<circle cx="301.5" cy="343.1" r="2.7" fill="#000" fill-opacity="0.483" stroke="#000" stroke-opacity="0.483" stroke-width="0.6"/>
<circle cx="320.7" cy="323.8" r="2.7" fill="#000" fill-opacity="0.551" stroke="#000" stroke-opacity="0.551" stroke-width="0.6"/>
<circle cx="320.7" cy="325.7" r="2.7" fill="#000" fill-opacity="0.483" stroke="#000" stroke-opacity="0.483" stroke-width="0.6"/>
<circle cx="339.9" cy="260.3" r="2.7" fill="#000" fill-opacity="0.210" stroke="#000" stroke-opacity="0.210" stroke-width="0.6"/>
<circle cx="339.9" cy="298.8" r="2.7" fill="#000" fill-opacity="0.210" stroke="#000" stroke-opacity="0.210" stroke-width="0.6"/>
<circle cx="339.9" cy="311.6" r="2.7" fill="#000" fill-opacity="0.210" stroke="#000" stroke-opacity="0.210" stroke-width="0.6"/>
<circle cx="339.9" cy="343.6" r="2.7" fill="#000" fill-opacity="0.210" stroke="#000" stroke-opacity="0.210" stroke-width="0.6"/>
<circle cx="339.9" cy="363.2" r="2.7" fill="#000" fill-opacity="0.210" stroke="#000" stroke-opacity="0.210" stroke-width="0.6"/>
<line x1="274.50" y1="354.11" x2="462.97" y2="202.24" stroke="#5a5a5a" stroke-width="1.35" stroke-dasharray="6,5.95" stroke-dashoffset="0.6"/>
<path d="M282.36,356.58 C283.54,355.62 287.25,352.66 289.45,350.86 C291.66,349.06 293.54,347.41 295.59,345.76 C297.63,344.12 299.68,342.60 301.72,340.97 C303.77,339.35 305.81,337.73 307.86,336.03 C309.90,334.33 311.95,332.53 313.99,330.78 C316.04,329.03 318.08,327.15 320.13,325.53 C322.17,323.90 324.22,322.31 326.26,321.05 C328.31,319.79 330.13,318.83 332.40,317.96 C334.67,317.08 338.63,316.16 339.87,315.79" fill="none" stroke="#f00" stroke-width="3.1" stroke-linejoin="round" stroke-linecap="butt"/>
</g>
<rect x="274.50" y="201.59" width="188.47" height="168.86" fill="none" stroke="#444" stroke-width="1.3"/>
<g clip-path="url(#cp12)">
<path d="M480.43,351.94 C481.58,350.63 485.16,346.48 487.33,344.06 C489.51,341.64 491.42,339.40 493.47,337.42 C495.51,335.44 497.53,334.07 499.60,332.17 C501.68,330.26 503.85,327.92 505.93,325.99 C508.01,324.06 510.02,322.36 512.06,320.58 C514.11,318.81 516.15,317.11 518.20,315.33 C520.24,313.55 522.29,311.60 524.33,309.92 C526.38,308.25 528.42,306.76 530.47,305.29 C532.51,303.82 534.56,302.41 536.60,301.12 C538.65,299.83 540.69,298.67 542.74,297.57 C544.78,296.46 546.83,295.45 548.87,294.48 C550.92,293.50 552.83,292.62 555.01,291.70 C557.18,290.77 559.70,289.82 561.91,288.92 C564.11,288.01 565.84,287.37 568.23,286.29 C570.63,285.21 573.47,283.95 576.29,282.43 C579.10,280.91 581.97,278.98 585.10,277.17 C588.24,275.37 591.75,273.49 595.07,271.61 C598.40,269.73 601.78,267.78 605.04,265.90 C608.30,264.02 611.56,262.11 614.63,260.34 C617.70,258.56 620.28,257.25 623.45,255.24 C626.61,253.23 630.25,250.53 633.61,248.29 C636.96,246.05 640.35,243.94 643.58,241.80 C646.80,239.66 651.40,236.52 652.97,235.47 L652.97,247.21 C651.40,248.06 646.80,250.58 643.58,252.30 C640.35,254.03 636.96,255.73 633.61,257.56 C630.25,259.38 626.61,261.47 623.45,263.27 C620.28,265.07 617.70,266.59 614.63,268.37 C611.56,270.15 608.30,272.05 605.04,273.93 C601.78,275.81 598.40,277.77 595.07,279.65 C591.75,281.53 588.24,283.41 585.10,285.21 C581.97,287.01 579.10,288.94 576.29,290.46 C573.47,291.98 570.63,293.24 568.23,294.32 C565.84,295.40 564.11,296.05 561.91,296.95 C559.70,297.85 557.18,298.80 555.01,299.73 C552.83,300.66 550.92,301.53 548.87,302.51 C546.83,303.49 544.78,304.49 542.74,305.60 C540.69,306.71 538.65,307.86 536.60,309.15 C534.56,310.44 532.51,311.86 530.47,313.32 C528.42,314.79 526.38,316.28 524.33,317.96 C522.29,319.63 520.24,321.59 518.20,323.36 C516.15,325.14 514.11,326.84 512.06,328.62 C510.02,330.39 508.01,332.09 505.93,334.02 C503.85,335.95 501.68,338.25 499.60,340.20 C497.53,342.16 495.51,343.63 493.47,345.76 C491.42,347.90 489.51,350.45 487.33,353.02 C485.16,355.60 481.58,359.85 480.43,361.21Z" fill="#999" fill-opacity="0.4"/>
<circle cx="480.4" cy="357.0" r="2.7" fill="#000" fill-opacity="0.930" stroke="#000" stroke-opacity="0.930" stroke-width="0.6"/>
<circle cx="499.6" cy="335.4" r="2.7" fill="#000" fill-opacity="0.210" stroke="#000" stroke-opacity="0.210" stroke-width="0.6"/>
<circle cx="499.6" cy="340.8" r="2.7" fill="#000" fill-opacity="0.483" stroke="#000" stroke-opacity="0.483" stroke-width="0.6"/>
<circle cx="518.8" cy="311.6" r="2.7" fill="#000" fill-opacity="0.405" stroke="#000" stroke-opacity="0.405" stroke-width="0.6"/>
<circle cx="518.8" cy="313.9" r="2.7" fill="#000" fill-opacity="0.314" stroke="#000" stroke-opacity="0.314" stroke-width="0.6"/>
<circle cx="518.8" cy="317.8" r="2.7" fill="#000" fill-opacity="0.314" stroke="#000" stroke-opacity="0.314" stroke-width="0.6"/>
<circle cx="518.8" cy="320.7" r="2.7" fill="#000" fill-opacity="0.314" stroke="#000" stroke-opacity="0.314" stroke-width="0.6"/>
<circle cx="518.8" cy="323.8" r="2.7" fill="#000" fill-opacity="0.314" stroke="#000" stroke-opacity="0.314" stroke-width="0.6"/>
<circle cx="518.8" cy="326.9" r="2.7" fill="#000" fill-opacity="0.210" stroke="#000" stroke-opacity="0.210" stroke-width="0.6"/>
<circle cx="537.9" cy="293.9" r="2.7" fill="#000" fill-opacity="0.210" stroke="#000" stroke-opacity="0.210" stroke-width="0.6"/>
<circle cx="537.9" cy="297.7" r="2.7" fill="#000" fill-opacity="0.314" stroke="#000" stroke-opacity="0.314" stroke-width="0.6"/>
<circle cx="537.9" cy="300.8" r="2.7" fill="#000" fill-opacity="0.314" stroke="#000" stroke-opacity="0.314" stroke-width="0.6"/>
<circle cx="537.9" cy="303.1" r="2.7" fill="#000" fill-opacity="0.314" stroke="#000" stroke-opacity="0.314" stroke-width="0.6"/>
<circle cx="537.9" cy="308.5" r="2.7" fill="#000" fill-opacity="0.405" stroke="#000" stroke-opacity="0.405" stroke-width="0.6"/>
<circle cx="537.9" cy="322.3" r="2.7" fill="#000" fill-opacity="0.210" stroke="#000" stroke-opacity="0.210" stroke-width="0.6"/>
<circle cx="557.1" cy="273.9" r="2.7" fill="#000" fill-opacity="0.210" stroke="#000" stroke-opacity="0.210" stroke-width="0.6"/>
<circle cx="557.1" cy="280.7" r="2.7" fill="#000" fill-opacity="0.314" stroke="#000" stroke-opacity="0.314" stroke-width="0.6"/>
<circle cx="557.1" cy="282.3" r="2.7" fill="#000" fill-opacity="0.314" stroke="#000" stroke-opacity="0.314" stroke-width="0.6"/>
<circle cx="557.1" cy="290.8" r="2.7" fill="#000" fill-opacity="0.314" stroke="#000" stroke-opacity="0.314" stroke-width="0.6"/>
<circle cx="557.1" cy="293.9" r="2.7" fill="#000" fill-opacity="0.210" stroke="#000" stroke-opacity="0.210" stroke-width="0.6"/>
<circle cx="557.1" cy="311.9" r="2.7" fill="#000" fill-opacity="0.483" stroke="#000" stroke-opacity="0.483" stroke-width="0.6"/>
<circle cx="576.3" cy="260.0" r="2.7" fill="#000" fill-opacity="0.210" stroke="#000" stroke-opacity="0.210" stroke-width="0.6"/>
<circle cx="576.3" cy="270.2" r="2.7" fill="#000" fill-opacity="0.314" stroke="#000" stroke-opacity="0.314" stroke-width="0.6"/>
<circle cx="576.3" cy="279.5" r="2.7" fill="#000" fill-opacity="0.405" stroke="#000" stroke-opacity="0.405" stroke-width="0.6"/>
<circle cx="576.3" cy="286.4" r="2.7" fill="#000" fill-opacity="0.314" stroke="#000" stroke-opacity="0.314" stroke-width="0.6"/>
<circle cx="576.3" cy="288.8" r="2.7" fill="#000" fill-opacity="0.314" stroke="#000" stroke-opacity="0.314" stroke-width="0.6"/>
<circle cx="576.3" cy="291.9" r="2.7" fill="#000" fill-opacity="0.210" stroke="#000" stroke-opacity="0.210" stroke-width="0.6"/>
<circle cx="576.3" cy="299.6" r="2.7" fill="#000" fill-opacity="0.210" stroke="#000" stroke-opacity="0.210" stroke-width="0.6"/>
<circle cx="576.3" cy="305.4" r="2.7" fill="#000" fill-opacity="0.210" stroke="#000" stroke-opacity="0.210" stroke-width="0.6"/>
<circle cx="595.5" cy="218.0" r="2.7" fill="#000" fill-opacity="0.210" stroke="#000" stroke-opacity="0.210" stroke-width="0.6"/>
<circle cx="595.5" cy="273.3" r="2.7" fill="#000" fill-opacity="0.210" stroke="#000" stroke-opacity="0.210" stroke-width="0.6"/>
<circle cx="595.5" cy="278.7" r="2.7" fill="#000" fill-opacity="0.405" stroke="#000" stroke-opacity="0.405" stroke-width="0.6"/>
<circle cx="595.5" cy="285.7" r="2.7" fill="#000" fill-opacity="0.210" stroke="#000" stroke-opacity="0.210" stroke-width="0.6"/>
<circle cx="595.5" cy="291.1" r="2.7" fill="#000" fill-opacity="0.405" stroke="#000" stroke-opacity="0.405" stroke-width="0.6"/>
<circle cx="595.5" cy="297.3" r="2.7" fill="#000" fill-opacity="0.314" stroke="#000" stroke-opacity="0.314" stroke-width="0.6"/>
<circle cx="595.5" cy="299.6" r="2.7" fill="#000" fill-opacity="0.210" stroke="#000" stroke-opacity="0.210" stroke-width="0.6"/>
<circle cx="614.6" cy="219.4" r="2.7" fill="#000" fill-opacity="0.405" stroke="#000" stroke-opacity="0.405" stroke-width="0.6"/>
<circle cx="614.6" cy="240.3" r="2.7" fill="#000" fill-opacity="0.210" stroke="#000" stroke-opacity="0.210" stroke-width="0.6"/>
<circle cx="614.6" cy="247.2" r="2.7" fill="#000" fill-opacity="0.210" stroke="#000" stroke-opacity="0.210" stroke-width="0.6"/>
<circle cx="614.6" cy="264.8" r="2.7" fill="#000" fill-opacity="0.314" stroke="#000" stroke-opacity="0.314" stroke-width="0.6"/>
<circle cx="614.6" cy="277.2" r="2.7" fill="#000" fill-opacity="0.210" stroke="#000" stroke-opacity="0.210" stroke-width="0.6"/>
<circle cx="614.6" cy="285.7" r="2.7" fill="#000" fill-opacity="0.405" stroke="#000" stroke-opacity="0.405" stroke-width="0.6"/>
<circle cx="614.6" cy="291.9" r="2.7" fill="#000" fill-opacity="0.210" stroke="#000" stroke-opacity="0.210" stroke-width="0.6"/>
<circle cx="633.8" cy="227.9" r="2.7" fill="#000" fill-opacity="0.210" stroke="#000" stroke-opacity="0.210" stroke-width="0.6"/>
<circle cx="633.8" cy="247.2" r="2.7" fill="#000" fill-opacity="0.210" stroke="#000" stroke-opacity="0.210" stroke-width="0.6"/>
<circle cx="633.8" cy="250.3" r="2.7" fill="#000" fill-opacity="0.405" stroke="#000" stroke-opacity="0.405" stroke-width="0.6"/>
<circle cx="633.8" cy="253.4" r="2.7" fill="#000" fill-opacity="0.314" stroke="#000" stroke-opacity="0.314" stroke-width="0.6"/>
<circle cx="633.8" cy="259.9" r="2.7" fill="#000" fill-opacity="0.551" stroke="#000" stroke-opacity="0.551" stroke-width="0.6"/>
<circle cx="633.8" cy="267.9" r="2.7" fill="#000" fill-opacity="0.210" stroke="#000" stroke-opacity="0.210" stroke-width="0.6"/>
<circle cx="653.0" cy="227.1" r="2.7" fill="#000" fill-opacity="0.210" stroke="#000" stroke-opacity="0.210" stroke-width="0.6"/>
<circle cx="653.0" cy="230.2" r="2.7" fill="#000" fill-opacity="0.405" stroke="#000" stroke-opacity="0.405" stroke-width="0.6"/>
<circle cx="653.0" cy="232.5" r="2.7" fill="#000" fill-opacity="0.314" stroke="#000" stroke-opacity="0.314" stroke-width="0.6"/>
<circle cx="653.0" cy="234.8" r="2.7" fill="#000" fill-opacity="0.405" stroke="#000" stroke-opacity="0.405" stroke-width="0.6"/>
<circle cx="653.0" cy="239.5" r="2.7" fill="#000" fill-opacity="0.210" stroke="#000" stroke-opacity="0.210" stroke-width="0.6"/>
<circle cx="653.0" cy="247.2" r="2.7" fill="#000" fill-opacity="0.405" stroke="#000" stroke-opacity="0.405" stroke-width="0.6"/>
<circle cx="653.0" cy="260.0" r="2.7" fill="#000" fill-opacity="0.210" stroke="#000" stroke-opacity="0.210" stroke-width="0.6"/>
<circle cx="653.0" cy="266.4" r="2.7" fill="#000" fill-opacity="0.210" stroke="#000" stroke-opacity="0.210" stroke-width="0.6"/>
<line x1="472.57" y1="354.11" x2="661.04" y2="202.24" stroke="#5a5a5a" stroke-width="1.35" stroke-dasharray="6,5.95" stroke-dashoffset="0.6"/>
<path d="M480.43,356.58 C481.58,355.24 485.16,351.04 487.33,348.54 C489.51,346.05 491.42,343.65 493.47,341.59 C495.51,339.53 497.53,338.12 499.60,336.19 C501.68,334.26 503.85,331.94 505.93,330.01 C508.01,328.08 510.02,326.38 512.06,324.60 C514.11,322.82 516.15,321.12 518.20,319.35 C520.24,317.57 522.29,315.61 524.33,313.94 C526.38,312.27 528.42,310.77 530.47,309.31 C532.51,307.84 534.56,306.42 536.60,305.14 C538.65,303.85 540.69,302.69 542.74,301.58 C544.78,300.48 546.83,299.47 548.87,298.49 C550.92,297.51 552.83,296.64 555.01,295.71 C557.18,294.79 559.70,293.83 561.91,292.93 C564.11,292.03 565.84,291.39 568.23,290.31 C570.63,289.22 573.47,287.96 576.29,286.44 C579.10,284.92 581.97,282.99 585.10,281.19 C588.24,279.39 591.75,277.51 595.07,275.63 C598.40,273.75 601.78,271.79 605.04,269.91 C608.30,268.03 611.56,266.13 614.63,264.35 C617.70,262.58 620.28,261.16 623.45,259.25 C626.61,257.35 630.25,254.96 633.61,252.92 C636.96,250.89 640.35,248.98 643.58,247.05 C646.80,245.12 651.40,242.29 652.97,241.34" fill="none" stroke="#f00" stroke-width="3.1" stroke-linejoin="round" stroke-linecap="butt"/>
</g>
<rect x="472.57" y="201.59" width="188.47" height="168.86" fill="none" stroke="#444" stroke-width="1.3"/>
<g clip-path="url(#cp20)">
<path d="M90.81,514.05 C91.86,513.18 95.06,510.71 97.14,508.80 C99.21,506.89 101.26,504.53 103.27,502.62 C105.28,500.72 107.20,499.12 109.21,497.37 C111.23,495.62 113.34,493.76 115.35,492.12 C117.36,490.47 119.28,488.61 121.29,487.48 C123.30,486.35 125.38,485.86 127.43,485.32 C129.47,484.78 131.29,484.57 133.56,484.24 C135.83,483.90 138.77,483.52 141.04,483.31 C143.31,483.11 144.90,482.92 147.17,483.00 C149.44,483.08 152.35,483.59 154.65,483.77 C156.95,483.95 158.32,483.93 160.98,484.08 C163.63,484.24 167.37,484.52 170.56,484.70 C173.76,484.88 177.30,485.29 180.15,485.16 C182.99,485.04 184.43,484.68 187.62,483.93 C190.82,483.18 195.71,481.77 199.32,480.68 C202.93,479.60 206.12,478.52 209.29,477.44 C212.45,476.36 215.04,475.46 218.30,474.20 C221.56,472.94 225.58,471.67 228.84,469.87 C232.10,468.07 234.62,465.91 237.85,463.38 C241.08,460.86 245.04,457.80 248.20,454.73 C251.37,451.67 255.39,446.62 256.83,445.00 L256.83,481.77 C255.39,481.95 251.37,482.13 248.20,482.85 C245.04,483.57 241.08,485.19 237.85,486.09 C234.62,486.99 232.10,487.17 228.84,488.25 C225.58,489.34 221.56,491.32 218.30,492.58 C215.04,493.84 212.45,494.74 209.29,495.82 C206.12,496.91 202.93,498.17 199.32,499.07 C195.71,499.97 190.82,500.69 187.62,501.23 C184.43,501.77 182.99,501.95 180.15,502.31 C177.30,502.67 173.76,503.11 170.56,503.39 C167.37,503.68 163.63,503.88 160.98,504.01 C158.32,504.14 156.69,504.06 154.65,504.17 C152.60,504.27 150.97,504.50 148.71,504.63 C146.44,504.76 143.56,504.76 141.04,504.94 C138.51,505.12 135.83,505.32 133.56,505.71 C131.29,506.10 129.47,506.51 127.43,507.26 C125.38,508.00 123.30,508.93 121.29,510.19 C119.28,511.45 117.36,513.05 115.35,514.82 C113.34,516.60 111.23,518.71 109.21,520.85 C107.20,522.99 105.28,525.38 103.27,527.65 C101.26,529.91 99.21,532.54 97.14,534.44 C95.06,536.35 91.86,538.31 90.81,539.08Z" fill="#999" fill-opacity="0.4"/>
<circle cx="84.3" cy="537.8" r="2.7" fill="#000" fill-opacity="0.930" stroke="#000" stroke-opacity="0.930" stroke-width="0.6"/>
<circle cx="103.5" cy="503.9" r="2.7" fill="#000" fill-opacity="0.405" stroke="#000" stroke-opacity="0.405" stroke-width="0.6"/>
<circle cx="103.5" cy="505.7" r="2.7" fill="#000" fill-opacity="0.314" stroke="#000" stroke-opacity="0.314" stroke-width="0.6"/>
<circle cx="103.5" cy="508.0" r="2.7" fill="#000" fill-opacity="0.314" stroke="#000" stroke-opacity="0.314" stroke-width="0.6"/>
<circle cx="103.5" cy="510.2" r="2.7" fill="#000" fill-opacity="0.314" stroke="#000" stroke-opacity="0.314" stroke-width="0.6"/>
<circle cx="103.5" cy="512.5" r="2.7" fill="#000" fill-opacity="0.405" stroke="#000" stroke-opacity="0.405" stroke-width="0.6"/>
<circle cx="122.6" cy="483.0" r="2.7" fill="#000" fill-opacity="0.210" stroke="#000" stroke-opacity="0.210" stroke-width="0.6"/>
<circle cx="122.6" cy="486.7" r="2.7" fill="#000" fill-opacity="0.210" stroke="#000" stroke-opacity="0.210" stroke-width="0.6"/>
<circle cx="122.6" cy="492.1" r="2.7" fill="#000" fill-opacity="0.314" stroke="#000" stroke-opacity="0.314" stroke-width="0.6"/>
<circle cx="122.6" cy="496.6" r="2.7" fill="#000" fill-opacity="0.405" stroke="#000" stroke-opacity="0.405" stroke-width="0.6"/>
<circle cx="122.6" cy="501.8" r="2.7" fill="#000" fill-opacity="0.314" stroke="#000" stroke-opacity="0.314" stroke-width="0.6"/>
<circle cx="122.6" cy="517.8" r="2.7" fill="#000" fill-opacity="0.210" stroke="#000" stroke-opacity="0.210" stroke-width="0.6"/>
<circle cx="141.8" cy="483.0" r="2.7" fill="#000" fill-opacity="0.405" stroke="#000" stroke-opacity="0.405" stroke-width="0.6"/>
<circle cx="141.8" cy="486.7" r="2.7" fill="#000" fill-opacity="0.314" stroke="#000" stroke-opacity="0.314" stroke-width="0.6"/>
<circle cx="141.8" cy="489.8" r="2.7" fill="#000" fill-opacity="0.314" stroke="#000" stroke-opacity="0.314" stroke-width="0.6"/>
<circle cx="141.8" cy="492.1" r="2.7" fill="#000" fill-opacity="0.314" stroke="#000" stroke-opacity="0.314" stroke-width="0.6"/>
<circle cx="141.8" cy="495.8" r="2.7" fill="#000" fill-opacity="0.314" stroke="#000" stroke-opacity="0.314" stroke-width="0.6"/>
<circle cx="141.8" cy="498.9" r="2.7" fill="#000" fill-opacity="0.405" stroke="#000" stroke-opacity="0.405" stroke-width="0.6"/>
<circle cx="141.8" cy="502.6" r="2.7" fill="#000" fill-opacity="0.210" stroke="#000" stroke-opacity="0.210" stroke-width="0.6"/>
<circle cx="141.8" cy="514.1" r="2.7" fill="#000" fill-opacity="0.210" stroke="#000" stroke-opacity="0.210" stroke-width="0.6"/>
<circle cx="161.0" cy="475.0" r="2.7" fill="#000" fill-opacity="0.210" stroke="#000" stroke-opacity="0.210" stroke-width="0.6"/>
<circle cx="161.0" cy="487.5" r="2.7" fill="#000" fill-opacity="0.314" stroke="#000" stroke-opacity="0.314" stroke-width="0.6"/>
<circle cx="161.0" cy="489.8" r="2.7" fill="#000" fill-opacity="0.314" stroke="#000" stroke-opacity="0.314" stroke-width="0.6"/>
<circle cx="161.0" cy="492.1" r="2.7" fill="#000" fill-opacity="0.314" stroke="#000" stroke-opacity="0.314" stroke-width="0.6"/>
<circle cx="161.0" cy="501.2" r="2.7" fill="#000" fill-opacity="0.405" stroke="#000" stroke-opacity="0.405" stroke-width="0.6"/>
<circle cx="161.0" cy="508.5" r="2.7" fill="#000" fill-opacity="0.405" stroke="#000" stroke-opacity="0.405" stroke-width="0.6"/>
<circle cx="180.1" cy="468.2" r="2.7" fill="#000" fill-opacity="0.210" stroke="#000" stroke-opacity="0.210" stroke-width="0.6"/>
<circle cx="180.1" cy="477.9" r="2.7" fill="#000" fill-opacity="0.210" stroke="#000" stroke-opacity="0.210" stroke-width="0.6"/>
<circle cx="180.1" cy="487.2" r="2.7" fill="#000" fill-opacity="0.314" stroke="#000" stroke-opacity="0.314" stroke-width="0.6"/>
<circle cx="180.1" cy="490.4" r="2.7" fill="#000" fill-opacity="0.314" stroke="#000" stroke-opacity="0.314" stroke-width="0.6"/>
<circle cx="180.1" cy="493.7" r="2.7" fill="#000" fill-opacity="0.314" stroke="#000" stroke-opacity="0.314" stroke-width="0.6"/>
<circle cx="180.1" cy="496.9" r="2.7" fill="#000" fill-opacity="0.314" stroke="#000" stroke-opacity="0.314" stroke-width="0.6"/>
<circle cx="180.1" cy="502.8" r="2.7" fill="#000" fill-opacity="0.314" stroke="#000" stroke-opacity="0.314" stroke-width="0.6"/>
<circle cx="180.1" cy="504.5" r="2.7" fill="#000" fill-opacity="0.314" stroke="#000" stroke-opacity="0.314" stroke-width="0.6"/>
<circle cx="180.1" cy="512.5" r="2.7" fill="#000" fill-opacity="0.210" stroke="#000" stroke-opacity="0.210" stroke-width="0.6"/>
<circle cx="199.3" cy="467.7" r="2.7" fill="#000" fill-opacity="0.314" stroke="#000" stroke-opacity="0.314" stroke-width="0.6"/>
<circle cx="199.3" cy="469.9" r="2.7" fill="#000" fill-opacity="0.314" stroke="#000" stroke-opacity="0.314" stroke-width="0.6"/>
<circle cx="199.3" cy="475.3" r="2.7" fill="#000" fill-opacity="0.314" stroke="#000" stroke-opacity="0.314" stroke-width="0.6"/>
<circle cx="199.3" cy="479.6" r="2.7" fill="#000" fill-opacity="0.210" stroke="#000" stroke-opacity="0.210" stroke-width="0.6"/>
<circle cx="199.3" cy="483.9" r="2.7" fill="#000" fill-opacity="0.314" stroke="#000" stroke-opacity="0.314" stroke-width="0.6"/>
<circle cx="199.3" cy="493.7" r="2.7" fill="#000" fill-opacity="0.210" stroke="#000" stroke-opacity="0.210" stroke-width="0.6"/>
<circle cx="199.3" cy="513.6" r="2.7" fill="#000" fill-opacity="0.210" stroke="#000" stroke-opacity="0.210" stroke-width="0.6"/>
<circle cx="199.3" cy="527.6" r="2.7" fill="#000" fill-opacity="0.405" stroke="#000" stroke-opacity="0.405" stroke-width="0.6"/>
<circle cx="218.5" cy="418.0" r="2.7" fill="#000" fill-opacity="0.314" stroke="#000" stroke-opacity="0.314" stroke-width="0.6"/>
<circle cx="218.5" cy="448.7" r="2.7" fill="#000" fill-opacity="0.210" stroke="#000" stroke-opacity="0.210" stroke-width="0.6"/>
<circle cx="218.5" cy="455.8" r="2.7" fill="#000" fill-opacity="0.210" stroke="#000" stroke-opacity="0.210" stroke-width="0.6"/>
<circle cx="218.5" cy="479.6" r="2.7" fill="#000" fill-opacity="0.210" stroke="#000" stroke-opacity="0.210" stroke-width="0.6"/>
<circle cx="218.5" cy="484.5" r="2.7" fill="#000" fill-opacity="0.210" stroke="#000" stroke-opacity="0.210" stroke-width="0.6"/>
<circle cx="218.5" cy="490.4" r="2.7" fill="#000" fill-opacity="0.210" stroke="#000" stroke-opacity="0.210" stroke-width="0.6"/>
<circle cx="218.5" cy="507.3" r="2.7" fill="#000" fill-opacity="0.210" stroke="#000" stroke-opacity="0.210" stroke-width="0.6"/>
<circle cx="218.5" cy="515.8" r="2.7" fill="#000" fill-opacity="0.405" stroke="#000" stroke-opacity="0.405" stroke-width="0.6"/>
<circle cx="237.7" cy="387.2" r="2.7" fill="#000" fill-opacity="0.405" stroke="#000" stroke-opacity="0.405" stroke-width="0.6"/>
<circle cx="237.7" cy="464.5" r="2.7" fill="#000" fill-opacity="0.210" stroke="#000" stroke-opacity="0.210" stroke-width="0.6"/>
<circle cx="237.7" cy="490.0" r="2.7" fill="#000" fill-opacity="0.210" stroke="#000" stroke-opacity="0.210" stroke-width="0.6"/>
<circle cx="237.7" cy="502.9" r="2.7" fill="#000" fill-opacity="0.483" stroke="#000" stroke-opacity="0.483" stroke-width="0.6"/>
<circle cx="237.7" cy="541.2" r="2.7" fill="#000" fill-opacity="0.405" stroke="#000" stroke-opacity="0.405" stroke-width="0.6"/>
<circle cx="256.8" cy="387.2" r="2.7" fill="#000" fill-opacity="0.405" stroke="#000" stroke-opacity="0.405" stroke-width="0.6"/>
<circle cx="256.8" cy="438.5" r="2.7" fill="#000" fill-opacity="0.210" stroke="#000" stroke-opacity="0.210" stroke-width="0.6"/>
<circle cx="256.8" cy="464.5" r="2.7" fill="#000" fill-opacity="0.210" stroke="#000" stroke-opacity="0.210" stroke-width="0.6"/>
<circle cx="256.8" cy="541.2" r="2.7" fill="#000" fill-opacity="0.405" stroke="#000" stroke-opacity="0.405" stroke-width="0.6"/>
<line x1="76.43" y1="532.44" x2="264.90" y2="380.57" stroke="#5a5a5a" stroke-width="1.35" stroke-dasharray="6,5.95" stroke-dashoffset="0.6"/>
<path d="M84.29,536.76 C85.44,535.11 89.05,529.78 91.19,526.87 C93.33,523.97 95.12,521.70 97.14,519.30 C99.15,516.91 101.26,514.64 103.27,512.51 C105.28,510.37 107.20,508.36 109.21,506.48 C111.23,504.60 113.34,502.67 115.35,501.23 C117.36,499.79 119.28,498.73 121.29,497.83 C123.30,496.93 125.38,496.29 127.43,495.82 C129.47,495.36 131.16,495.28 133.56,495.05 C135.96,494.82 138.83,494.59 141.80,494.43 C144.78,494.28 148.19,494.20 151.39,494.12 C154.58,494.05 157.78,494.02 160.98,493.97 C164.17,493.92 167.37,493.89 170.56,493.82 C173.76,493.74 176.95,493.74 180.15,493.51 C183.34,493.27 186.54,492.94 189.73,492.43 C192.93,491.91 196.12,491.24 199.32,490.42 C202.51,489.59 205.71,488.56 208.90,487.48 C212.10,486.40 215.29,485.29 218.49,483.93 C221.68,482.56 224.88,481.02 228.07,479.29 C231.27,477.57 234.46,475.46 237.66,473.58 C240.85,471.70 244.05,469.82 247.24,468.02 C250.44,466.22 255.23,463.64 256.83,462.77" fill="none" stroke="#f00" stroke-width="3.1" stroke-linejoin="round" stroke-linecap="butt"/>
</g>
<rect x="76.43" y="379.92" width="188.47" height="168.86" fill="none" stroke="#444" stroke-width="1.3"/>
<g clip-path="url(#cp21)">
<path d="M289.84,526.10 C290.99,525.07 294.69,522.42 296.74,519.92 C298.78,517.43 300.35,514.34 302.11,511.12 C303.86,507.90 305.56,504.11 307.28,500.61 C309.01,497.11 310.70,493.46 312.46,490.11 C314.22,486.76 316.07,482.72 317.83,480.53 C319.58,478.34 320.96,477.83 323.00,476.98 C325.05,476.13 327.76,476.15 330.10,475.43 C332.43,474.71 334.67,473.55 337.00,472.65 C339.33,471.75 341.76,470.85 344.09,470.03 C346.42,469.20 348.66,468.30 350.99,467.71 C353.33,467.12 355.43,466.78 358.09,466.47 C360.74,466.16 363.55,466.16 366.91,465.85 C370.26,465.55 376.33,464.82 378.22,464.62 L378.22,499.69 C377.19,498.37 373.97,493.84 372.08,491.81 C370.20,489.77 369.24,488.64 366.91,487.48 C364.57,486.32 360.74,485.29 358.09,484.86 C355.43,484.42 353.33,484.57 350.99,484.86 C348.66,485.14 346.42,485.99 344.09,486.56 C341.76,487.12 339.33,488.05 337.00,488.25 C334.67,488.46 332.43,487.53 330.10,487.79 C327.76,488.05 325.05,488.10 323.00,489.80 C320.96,491.50 319.58,494.43 317.83,497.99 C316.07,501.54 314.22,506.87 312.46,511.12 C310.70,515.37 309.01,520.26 307.28,523.48 C305.56,526.69 303.86,528.39 302.11,530.43 C300.35,532.46 298.78,533.93 296.74,535.68 C294.69,537.43 290.99,540.06 289.84,540.93Z" fill="#999" fill-opacity="0.4"/>
<circle cx="282.4" cy="539.2" r="2.7" fill="#000" fill-opacity="0.930" stroke="#000" stroke-opacity="0.930" stroke-width="0.6"/>
<circle cx="301.5" cy="519.0" r="2.7" fill="#000" fill-opacity="0.405" stroke="#000" stroke-opacity="0.405" stroke-width="0.6"/>
<circle cx="301.5" cy="521.6" r="2.7" fill="#000" fill-opacity="0.483" stroke="#000" stroke-opacity="0.483" stroke-width="0.6"/>
<circle cx="320.7" cy="479.6" r="2.7" fill="#000" fill-opacity="0.551" stroke="#000" stroke-opacity="0.551" stroke-width="0.6"/>
<circle cx="320.7" cy="492.7" r="2.7" fill="#000" fill-opacity="0.314" stroke="#000" stroke-opacity="0.314" stroke-width="0.6"/>
<circle cx="320.7" cy="498.0" r="2.7" fill="#000" fill-opacity="0.314" stroke="#000" stroke-opacity="0.314" stroke-width="0.6"/>
<circle cx="320.7" cy="499.7" r="2.7" fill="#000" fill-opacity="0.405" stroke="#000" stroke-opacity="0.405" stroke-width="0.6"/>
<circle cx="339.9" cy="475.7" r="2.7" fill="#000" fill-opacity="0.314" stroke="#000" stroke-opacity="0.314" stroke-width="0.6"/>
<circle cx="339.9" cy="478.7" r="2.7" fill="#000" fill-opacity="0.405" stroke="#000" stroke-opacity="0.405" stroke-width="0.6"/>
<circle cx="339.9" cy="481.3" r="2.7" fill="#000" fill-opacity="0.405" stroke="#000" stroke-opacity="0.405" stroke-width="0.6"/>
<circle cx="359.0" cy="456.7" r="2.7" fill="#000" fill-opacity="0.210" stroke="#000" stroke-opacity="0.210" stroke-width="0.6"/>
<circle cx="359.0" cy="460.6" r="2.7" fill="#000" fill-opacity="0.210" stroke="#000" stroke-opacity="0.210" stroke-width="0.6"/>
<circle cx="359.0" cy="470.5" r="2.7" fill="#000" fill-opacity="0.210" stroke="#000" stroke-opacity="0.210" stroke-width="0.6"/>
<circle cx="359.0" cy="481.3" r="2.7" fill="#000" fill-opacity="0.210" stroke="#000" stroke-opacity="0.210" stroke-width="0.6"/>
<circle cx="378.2" cy="431.1" r="2.7" fill="#000" fill-opacity="0.210" stroke="#000" stroke-opacity="0.210" stroke-width="0.6"/>
<circle cx="378.2" cy="541.2" r="2.7" fill="#000" fill-opacity="0.210" stroke="#000" stroke-opacity="0.210" stroke-width="0.6"/>
<line x1="274.50" y1="532.44" x2="462.97" y2="380.57" stroke="#5a5a5a" stroke-width="1.35" stroke-dasharray="6,5.95" stroke-dashoffset="0.6"/>
<path d="M282.36,539.23 C283.61,538.36 287.44,535.89 289.84,533.98 C292.23,532.08 294.69,529.86 296.74,527.80 C298.78,525.74 300.35,524.09 302.11,521.62 C303.86,519.15 305.69,516.19 307.28,512.97 C308.88,509.75 310.22,505.84 311.69,502.31 C313.16,498.78 314.63,494.72 316.10,491.81 C317.57,488.90 319.07,486.45 320.51,484.86 C321.95,483.26 323.13,482.87 324.73,482.23 C326.33,481.59 328.34,481.30 330.10,480.99 C331.85,480.68 333.52,480.66 335.27,480.38 C337.03,480.09 338.60,479.84 340.64,479.29 C342.69,478.75 345.21,477.70 347.54,477.13 C349.87,476.57 352.59,476.13 354.64,475.90 C356.68,475.66 357.77,475.56 359.81,475.74 C361.86,475.92 364.70,476.39 366.91,476.98 C369.11,477.57 371.15,478.42 373.04,479.29 C374.92,480.17 377.35,481.74 378.22,482.23" fill="none" stroke="#f00" stroke-width="3.1" stroke-linejoin="round" stroke-linecap="butt"/>
</g>
<rect x="274.50" y="379.92" width="188.47" height="168.86" fill="none" stroke="#444" stroke-width="1.3"/>
<g clip-path="url(#cp22)">
<path d="M487.52,515.13 C488.48,514.18 491.20,511.61 493.28,509.42 C495.35,507.23 497.78,504.32 499.99,502.00 C502.19,499.69 504.33,497.55 506.50,495.51 C508.68,493.48 510.85,491.58 513.02,489.80 C515.19,488.02 517.34,486.22 519.54,484.86 C521.74,483.49 524.05,482.51 526.25,481.61 C528.45,480.71 530.60,480.02 532.77,479.45 C534.94,478.88 537.11,478.55 539.29,478.21 C541.46,477.88 543.60,477.78 545.80,477.44 C548.01,477.11 550.31,476.62 552.51,476.20 C554.72,475.79 556.86,475.36 559.03,474.97 C561.20,474.58 562.67,474.56 565.55,473.89 C568.43,473.22 573.28,471.91 576.29,470.95 C579.29,470.00 581.27,469.00 583.57,468.17 C585.87,467.35 588.11,466.63 590.09,466.01 C592.07,465.39 593.28,464.82 595.46,464.46 C597.63,464.10 600.76,463.92 603.13,463.85 C605.49,463.77 607.66,463.72 609.64,464.00 C611.62,464.28 612.84,464.75 615.01,465.55 C617.18,466.34 620.35,467.71 622.68,468.79 C625.01,469.87 626.87,470.85 629.01,472.03 C631.15,473.22 633.35,474.63 635.52,475.90 C637.70,477.16 639.87,478.44 642.04,479.60 C644.22,480.76 646.74,481.95 648.56,482.85 C650.38,483.75 652.24,484.65 652.97,485.01 L652.97,521.78 C652.24,520.88 650.38,518.53 648.56,516.37 C646.74,514.21 644.22,511.14 642.04,508.80 C639.87,506.46 637.70,504.29 635.52,502.31 C633.35,500.33 631.15,498.71 629.01,496.91 C626.87,495.10 625.01,493.30 622.68,491.50 C620.35,489.70 617.18,487.35 615.01,486.09 C612.84,484.83 611.62,484.29 609.64,483.93 C607.66,483.57 605.49,483.67 603.13,483.93 C600.76,484.19 597.63,485.01 595.46,485.47 C593.28,485.94 592.07,486.07 590.09,486.71 C588.11,487.35 585.87,488.46 583.57,489.34 C581.27,490.21 579.29,490.88 576.29,491.96 C573.28,493.04 568.43,494.95 565.55,495.82 C562.67,496.70 561.20,496.78 559.03,497.21 C556.86,497.65 554.72,498.06 552.51,498.45 C550.31,498.84 548.01,499.15 545.80,499.53 C543.60,499.92 541.46,500.36 539.29,500.77 C537.11,501.18 534.94,501.51 532.77,502.00 C530.60,502.49 528.45,502.88 526.25,503.70 C524.05,504.53 521.74,505.45 519.54,506.95 C517.34,508.44 515.19,510.73 513.02,512.66 C510.85,514.59 508.68,516.34 506.50,518.53 C504.33,520.72 502.19,523.35 499.99,525.79 C497.78,528.24 495.35,531.02 493.28,533.21 C491.20,535.40 488.48,537.97 487.52,538.92Z" fill="#999" fill-opacity="0.4"/>
<circle cx="480.4" cy="539.1" r="2.7" fill="#000" fill-opacity="0.930" stroke="#000" stroke-opacity="0.930" stroke-width="0.6"/>
<circle cx="499.6" cy="504.5" r="2.7" fill="#000" fill-opacity="0.405" stroke="#000" stroke-opacity="0.405" stroke-width="0.6"/>
<circle cx="499.6" cy="506.9" r="2.7" fill="#000" fill-opacity="0.314" stroke="#000" stroke-opacity="0.314" stroke-width="0.6"/>
<circle cx="499.6" cy="509.4" r="2.7" fill="#000" fill-opacity="0.314" stroke="#000" stroke-opacity="0.314" stroke-width="0.6"/>
<circle cx="499.6" cy="511.9" r="2.7" fill="#000" fill-opacity="0.314" stroke="#000" stroke-opacity="0.314" stroke-width="0.6"/>
<circle cx="499.6" cy="514.4" r="2.7" fill="#000" fill-opacity="0.314" stroke="#000" stroke-opacity="0.314" stroke-width="0.6"/>
<circle cx="499.6" cy="516.8" r="2.7" fill="#000" fill-opacity="0.405" stroke="#000" stroke-opacity="0.405" stroke-width="0.6"/>
<circle cx="518.8" cy="481.0" r="2.7" fill="#000" fill-opacity="0.210" stroke="#000" stroke-opacity="0.210" stroke-width="0.6"/>
<circle cx="518.8" cy="486.4" r="2.7" fill="#000" fill-opacity="0.210" stroke="#000" stroke-opacity="0.210" stroke-width="0.6"/>
<circle cx="518.8" cy="490.6" r="2.7" fill="#000" fill-opacity="0.314" stroke="#000" stroke-opacity="0.314" stroke-width="0.6"/>
<circle cx="518.8" cy="493.8" r="2.7" fill="#000" fill-opacity="0.314" stroke="#000" stroke-opacity="0.314" stroke-width="0.6"/>
<circle cx="518.8" cy="497.2" r="2.7" fill="#000" fill-opacity="0.314" stroke="#000" stroke-opacity="0.314" stroke-width="0.6"/>
<circle cx="518.8" cy="500.5" r="2.7" fill="#000" fill-opacity="0.314" stroke="#000" stroke-opacity="0.314" stroke-width="0.6"/>
<circle cx="518.8" cy="503.7" r="2.7" fill="#000" fill-opacity="0.314" stroke="#000" stroke-opacity="0.314" stroke-width="0.6"/>
<circle cx="518.8" cy="506.9" r="2.7" fill="#000" fill-opacity="0.314" stroke="#000" stroke-opacity="0.314" stroke-width="0.6"/>
<circle cx="537.9" cy="476.7" r="2.7" fill="#000" fill-opacity="0.210" stroke="#000" stroke-opacity="0.210" stroke-width="0.6"/>
<circle cx="537.9" cy="484.9" r="2.7" fill="#000" fill-opacity="0.405" stroke="#000" stroke-opacity="0.405" stroke-width="0.6"/>
<circle cx="537.9" cy="487.3" r="2.7" fill="#000" fill-opacity="0.314" stroke="#000" stroke-opacity="0.314" stroke-width="0.6"/>
<circle cx="537.9" cy="490.6" r="2.7" fill="#000" fill-opacity="0.314" stroke="#000" stroke-opacity="0.314" stroke-width="0.6"/>
<circle cx="537.9" cy="493.0" r="2.7" fill="#000" fill-opacity="0.314" stroke="#000" stroke-opacity="0.314" stroke-width="0.6"/>
<circle cx="537.9" cy="498.0" r="2.7" fill="#000" fill-opacity="0.210" stroke="#000" stroke-opacity="0.210" stroke-width="0.6"/>
<circle cx="537.9" cy="504.5" r="2.7" fill="#000" fill-opacity="0.210" stroke="#000" stroke-opacity="0.210" stroke-width="0.6"/>
<circle cx="557.1" cy="461.8" r="2.7" fill="#000" fill-opacity="0.483" stroke="#000" stroke-opacity="0.483" stroke-width="0.6"/>
<circle cx="557.1" cy="475.7" r="2.7" fill="#000" fill-opacity="0.314" stroke="#000" stroke-opacity="0.314" stroke-width="0.6"/>
<circle cx="557.1" cy="478.2" r="2.7" fill="#000" fill-opacity="0.314" stroke="#000" stroke-opacity="0.314" stroke-width="0.6"/>
<circle cx="557.1" cy="483.2" r="2.7" fill="#000" fill-opacity="0.314" stroke="#000" stroke-opacity="0.314" stroke-width="0.6"/>
<circle cx="557.1" cy="485.6" r="2.7" fill="#000" fill-opacity="0.210" stroke="#000" stroke-opacity="0.210" stroke-width="0.6"/>
<circle cx="557.1" cy="489.8" r="2.7" fill="#000" fill-opacity="0.210" stroke="#000" stroke-opacity="0.210" stroke-width="0.6"/>
<circle cx="557.1" cy="506.2" r="2.7" fill="#000" fill-opacity="0.210" stroke="#000" stroke-opacity="0.210" stroke-width="0.6"/>
<circle cx="557.1" cy="512.2" r="2.7" fill="#000" fill-opacity="0.210" stroke="#000" stroke-opacity="0.210" stroke-width="0.6"/>
<circle cx="576.3" cy="466.6" r="2.7" fill="#000" fill-opacity="0.210" stroke="#000" stroke-opacity="0.210" stroke-width="0.6"/>
<circle cx="576.3" cy="469.9" r="2.7" fill="#000" fill-opacity="0.314" stroke="#000" stroke-opacity="0.314" stroke-width="0.6"/>
<circle cx="576.3" cy="472.0" r="2.7" fill="#000" fill-opacity="0.314" stroke="#000" stroke-opacity="0.314" stroke-width="0.6"/>
<circle cx="576.3" cy="477.4" r="2.7" fill="#000" fill-opacity="0.210" stroke="#000" stroke-opacity="0.210" stroke-width="0.6"/>
<circle cx="576.3" cy="480.7" r="2.7" fill="#000" fill-opacity="0.314" stroke="#000" stroke-opacity="0.314" stroke-width="0.6"/>
<circle cx="576.3" cy="482.8" r="2.7" fill="#000" fill-opacity="0.314" stroke="#000" stroke-opacity="0.314" stroke-width="0.6"/>
<circle cx="576.3" cy="485.6" r="2.7" fill="#000" fill-opacity="0.314" stroke="#000" stroke-opacity="0.314" stroke-width="0.6"/>
<circle cx="576.3" cy="508.2" r="2.7" fill="#000" fill-opacity="0.210" stroke="#000" stroke-opacity="0.210" stroke-width="0.6"/>
<circle cx="576.3" cy="522.2" r="2.7" fill="#000" fill-opacity="0.210" stroke="#000" stroke-opacity="0.210" stroke-width="0.6"/>
<circle cx="595.5" cy="454.7" r="2.7" fill="#000" fill-opacity="0.314" stroke="#000" stroke-opacity="0.314" stroke-width="0.6"/>
<circle cx="595.5" cy="456.4" r="2.7" fill="#000" fill-opacity="0.314" stroke="#000" stroke-opacity="0.314" stroke-width="0.6"/>
<circle cx="595.5" cy="458.0" r="2.7" fill="#000" fill-opacity="0.314" stroke="#000" stroke-opacity="0.314" stroke-width="0.6"/>
<circle cx="595.5" cy="463.8" r="2.7" fill="#000" fill-opacity="0.405" stroke="#000" stroke-opacity="0.405" stroke-width="0.6"/>
<circle cx="595.5" cy="472.0" r="2.7" fill="#000" fill-opacity="0.210" stroke="#000" stroke-opacity="0.210" stroke-width="0.6"/>
<circle cx="595.5" cy="477.4" r="2.7" fill="#000" fill-opacity="0.210" stroke="#000" stroke-opacity="0.210" stroke-width="0.6"/>
<circle cx="595.5" cy="481.8" r="2.7" fill="#000" fill-opacity="0.210" stroke="#000" stroke-opacity="0.210" stroke-width="0.6"/>
<circle cx="595.5" cy="490.0" r="2.7" fill="#000" fill-opacity="0.210" stroke="#000" stroke-opacity="0.210" stroke-width="0.6"/>
<circle cx="595.5" cy="495.8" r="2.7" fill="#000" fill-opacity="0.210" stroke="#000" stroke-opacity="0.210" stroke-width="0.6"/>
<circle cx="614.6" cy="438.5" r="2.7" fill="#000" fill-opacity="0.210" stroke="#000" stroke-opacity="0.210" stroke-width="0.6"/>
<circle cx="614.6" cy="448.7" r="2.7" fill="#000" fill-opacity="0.210" stroke="#000" stroke-opacity="0.210" stroke-width="0.6"/>
<circle cx="614.6" cy="464.5" r="2.7" fill="#000" fill-opacity="0.405" stroke="#000" stroke-opacity="0.405" stroke-width="0.6"/>
<circle cx="614.6" cy="472.0" r="2.7" fill="#000" fill-opacity="0.210" stroke="#000" stroke-opacity="0.210" stroke-width="0.6"/>
<circle cx="614.6" cy="490.0" r="2.7" fill="#000" fill-opacity="0.483" stroke="#000" stroke-opacity="0.483" stroke-width="0.6"/>
<circle cx="614.6" cy="502.8" r="2.7" fill="#000" fill-opacity="0.210" stroke="#000" stroke-opacity="0.210" stroke-width="0.6"/>
<circle cx="614.6" cy="510.5" r="2.7" fill="#000" fill-opacity="0.210" stroke="#000" stroke-opacity="0.210" stroke-width="0.6"/>
<circle cx="633.8" cy="387.2" r="2.7" fill="#000" fill-opacity="0.405" stroke="#000" stroke-opacity="0.405" stroke-width="0.6"/>
<circle cx="633.8" cy="425.5" r="2.7" fill="#000" fill-opacity="0.210" stroke="#000" stroke-opacity="0.210" stroke-width="0.6"/>
<circle cx="633.8" cy="464.5" r="2.7" fill="#000" fill-opacity="0.210" stroke="#000" stroke-opacity="0.210" stroke-width="0.6"/>
<circle cx="633.8" cy="482.8" r="2.7" fill="#000" fill-opacity="0.210" stroke="#000" stroke-opacity="0.210" stroke-width="0.6"/>
<circle cx="633.8" cy="502.8" r="2.7" fill="#000" fill-opacity="0.210" stroke="#000" stroke-opacity="0.210" stroke-width="0.6"/>
<circle cx="633.8" cy="541.2" r="2.7" fill="#000" fill-opacity="0.405" stroke="#000" stroke-opacity="0.405" stroke-width="0.6"/>
<circle cx="653.0" cy="387.2" r="2.7" fill="#000" fill-opacity="0.210" stroke="#000" stroke-opacity="0.210" stroke-width="0.6"/>
<circle cx="653.0" cy="541.2" r="2.7" fill="#000" fill-opacity="0.551" stroke="#000" stroke-opacity="0.551" stroke-width="0.6"/>
<line x1="472.57" y1="532.44" x2="661.04" y2="380.57" stroke="#5a5a5a" stroke-width="1.35" stroke-dasharray="6,5.95" stroke-dashoffset="0.6"/>
<path d="M480.43,538.15 C481.49,536.66 484.62,532.05 486.76,529.19 C488.90,526.33 491.07,523.76 493.28,521.00 C495.48,518.25 497.78,515.13 499.99,512.66 C502.19,510.19 504.33,508.21 506.50,506.17 C508.68,504.14 510.85,502.18 513.02,500.46 C515.19,498.73 517.34,497.19 519.54,495.82 C521.74,494.46 524.05,493.20 526.25,492.27 C528.45,491.34 530.60,490.83 532.77,490.26 C534.94,489.70 537.11,489.28 539.29,488.87 C541.46,488.46 543.60,488.13 545.80,487.79 C548.01,487.46 550.31,487.17 552.51,486.86 C554.72,486.56 556.67,486.43 559.03,485.94 C561.40,485.45 563.82,484.73 566.70,483.93 C569.58,483.13 573.47,482.13 576.29,481.15 C579.10,480.17 581.27,478.99 583.57,478.06 C585.87,477.13 588.11,476.23 590.09,475.59 C592.07,474.94 593.28,474.58 595.46,474.20 C597.63,473.81 600.76,473.42 603.13,473.27 C605.49,473.12 607.66,473.12 609.64,473.27 C611.62,473.42 612.84,473.50 615.01,474.20 C617.18,474.89 620.35,476.20 622.68,477.44 C625.01,478.68 626.87,480.04 629.01,481.61 C631.15,483.18 633.35,485.04 635.52,486.86 C637.70,488.69 639.87,490.60 642.04,492.58 C644.22,494.56 646.74,496.96 648.56,498.76 C650.38,500.56 652.24,502.62 652.97,503.39" fill="none" stroke="#f00" stroke-width="3.1" stroke-linejoin="round" stroke-linecap="butt"/>
</g>
<rect x="472.57" y="379.92" width="188.47" height="168.86" fill="none" stroke="#444" stroke-width="1.3"/>
<g clip-path="url(#cp30)">
<path d="M97.71,688.21 C98.73,687.67 101.70,686.05 103.85,684.97 C105.99,683.89 108.35,682.80 110.56,681.72 C112.76,680.64 114.90,679.59 117.07,678.48 C119.25,677.37 121.42,676.06 123.59,675.08 C125.76,674.10 127.91,673.43 130.11,672.61 C132.31,671.79 134.61,670.81 136.82,670.14 C139.02,669.47 141.16,668.98 143.34,668.59 C145.51,668.21 147.68,667.97 149.86,667.82 C152.03,667.67 154.17,667.87 156.37,667.67 C158.58,667.46 160.88,667.15 163.08,666.58 C165.29,666.02 167.46,664.91 169.60,664.27 C171.74,663.62 174.14,663.08 175.93,662.72 C177.72,662.36 178.39,662.13 180.34,662.10 C182.29,662.08 184.43,662.49 187.62,662.57 C190.82,662.65 195.90,662.67 199.51,662.57 C203.12,662.46 206.03,662.41 209.29,661.95 C212.54,661.49 215.80,660.69 219.06,659.79 C222.32,658.89 225.77,657.86 228.84,656.54 C231.91,655.23 234.59,654.07 237.47,651.91 C240.34,649.75 243.57,646.58 246.09,643.57 C248.62,640.55 250.82,636.80 252.61,633.83 C254.40,630.87 256.13,627.14 256.83,625.80 L256.83,686.36 C256.13,686.41 254.40,686.41 252.61,686.67 C250.82,686.92 248.62,687.46 246.09,687.90 C243.57,688.34 240.34,688.75 237.47,689.29 C234.59,689.83 231.91,690.55 228.84,691.15 C225.77,691.74 222.32,692.31 219.06,692.85 C215.80,693.39 212.54,694.08 209.29,694.39 C206.03,694.70 203.12,694.70 199.51,694.70 C195.90,694.70 190.82,694.06 187.62,694.39 C184.43,694.73 182.29,695.94 180.34,696.71 C178.39,697.48 177.72,698.30 175.93,699.03 C174.14,699.75 171.74,700.44 169.60,701.03 C167.46,701.63 165.29,702.30 163.08,702.58 C160.88,702.86 158.58,702.78 156.37,702.73 C154.17,702.68 152.03,702.35 149.86,702.27 C147.68,702.19 145.51,702.14 143.34,702.27 C141.16,702.40 139.02,702.71 136.82,703.04 C134.61,703.38 132.31,703.74 130.11,704.28 C127.91,704.82 125.76,705.54 123.59,706.29 C121.42,707.03 119.25,707.93 117.07,708.76 C114.90,709.58 112.76,710.28 110.56,711.23 C108.35,712.18 105.99,713.37 103.85,714.47 C101.70,715.58 98.73,717.31 97.71,717.87Z" fill="#999" fill-opacity="0.4"/>
<circle cx="84.3" cy="714.2" r="2.7" fill="#000" fill-opacity="0.930" stroke="#000" stroke-opacity="0.930" stroke-width="0.6"/>
<circle cx="103.5" cy="686.7" r="2.7" fill="#000" fill-opacity="0.210" stroke="#000" stroke-opacity="0.210" stroke-width="0.6"/>
<circle cx="103.5" cy="689.1" r="2.7" fill="#000" fill-opacity="0.314" stroke="#000" stroke-opacity="0.314" stroke-width="0.6"/>
<circle cx="103.5" cy="691.6" r="2.7" fill="#000" fill-opacity="0.314" stroke="#000" stroke-opacity="0.314" stroke-width="0.6"/>
<circle cx="103.5" cy="694.1" r="2.7" fill="#000" fill-opacity="0.314" stroke="#000" stroke-opacity="0.314" stroke-width="0.6"/>
<circle cx="103.5" cy="696.4" r="2.7" fill="#000" fill-opacity="0.314" stroke="#000" stroke-opacity="0.314" stroke-width="0.6"/>
<circle cx="103.5" cy="698.9" r="2.7" fill="#000" fill-opacity="0.405" stroke="#000" stroke-opacity="0.405" stroke-width="0.6"/>
<circle cx="122.6" cy="678.5" r="2.7" fill="#000" fill-opacity="0.314" stroke="#000" stroke-opacity="0.314" stroke-width="0.6"/>
<circle cx="122.6" cy="681.0" r="2.7" fill="#000" fill-opacity="0.210" stroke="#000" stroke-opacity="0.210" stroke-width="0.6"/>
<circle cx="122.6" cy="686.7" r="2.7" fill="#000" fill-opacity="0.210" stroke="#000" stroke-opacity="0.210" stroke-width="0.6"/>
<circle cx="122.6" cy="691.6" r="2.7" fill="#000" fill-opacity="0.210" stroke="#000" stroke-opacity="0.210" stroke-width="0.6"/>
<circle cx="122.6" cy="695.6" r="2.7" fill="#000" fill-opacity="0.210" stroke="#000" stroke-opacity="0.210" stroke-width="0.6"/>
<circle cx="122.6" cy="698.9" r="2.7" fill="#000" fill-opacity="0.210" stroke="#000" stroke-opacity="0.210" stroke-width="0.6"/>
<circle cx="122.6" cy="701.3" r="2.7" fill="#000" fill-opacity="0.210" stroke="#000" stroke-opacity="0.210" stroke-width="0.6"/>
<circle cx="122.6" cy="703.8" r="2.7" fill="#000" fill-opacity="0.210" stroke="#000" stroke-opacity="0.210" stroke-width="0.6"/>
<circle cx="122.6" cy="706.3" r="2.7" fill="#000" fill-opacity="0.314" stroke="#000" stroke-opacity="0.314" stroke-width="0.6"/>
<circle cx="122.6" cy="708.3" r="2.7" fill="#000" fill-opacity="0.210" stroke="#000" stroke-opacity="0.210" stroke-width="0.6"/>
<circle cx="141.8" cy="662.9" r="2.7" fill="#000" fill-opacity="0.210" stroke="#000" stroke-opacity="0.210" stroke-width="0.6"/>
<circle cx="141.8" cy="667.8" r="2.7" fill="#000" fill-opacity="0.210" stroke="#000" stroke-opacity="0.210" stroke-width="0.6"/>
<circle cx="141.8" cy="671.1" r="2.7" fill="#000" fill-opacity="0.314" stroke="#000" stroke-opacity="0.314" stroke-width="0.6"/>
<circle cx="141.8" cy="672.6" r="2.7" fill="#000" fill-opacity="0.405" stroke="#000" stroke-opacity="0.405" stroke-width="0.6"/>
<circle cx="141.8" cy="694.1" r="2.7" fill="#000" fill-opacity="0.314" stroke="#000" stroke-opacity="0.314" stroke-width="0.6"/>
<circle cx="141.8" cy="695.6" r="2.7" fill="#000" fill-opacity="0.405" stroke="#000" stroke-opacity="0.405" stroke-width="0.6"/>
<circle cx="141.8" cy="698.1" r="2.7" fill="#000" fill-opacity="0.314" stroke="#000" stroke-opacity="0.314" stroke-width="0.6"/>
<circle cx="141.8" cy="705.5" r="2.7" fill="#000" fill-opacity="0.210" stroke="#000" stroke-opacity="0.210" stroke-width="0.6"/>
<circle cx="141.8" cy="708.3" r="2.7" fill="#000" fill-opacity="0.210" stroke="#000" stroke-opacity="0.210" stroke-width="0.6"/>
<circle cx="161.0" cy="616.8" r="2.7" fill="#000" fill-opacity="0.210" stroke="#000" stroke-opacity="0.210" stroke-width="0.6"/>
<circle cx="161.0" cy="657.9" r="2.7" fill="#000" fill-opacity="0.210" stroke="#000" stroke-opacity="0.210" stroke-width="0.6"/>
<circle cx="161.0" cy="668.6" r="2.7" fill="#000" fill-opacity="0.405" stroke="#000" stroke-opacity="0.405" stroke-width="0.6"/>
<circle cx="161.0" cy="689.1" r="2.7" fill="#000" fill-opacity="0.210" stroke="#000" stroke-opacity="0.210" stroke-width="0.6"/>
<circle cx="161.0" cy="693.2" r="2.7" fill="#000" fill-opacity="0.314" stroke="#000" stroke-opacity="0.314" stroke-width="0.6"/>
<circle cx="161.0" cy="694.9" r="2.7" fill="#000" fill-opacity="0.314" stroke="#000" stroke-opacity="0.314" stroke-width="0.6"/>
<circle cx="161.0" cy="698.1" r="2.7" fill="#000" fill-opacity="0.210" stroke="#000" stroke-opacity="0.210" stroke-width="0.6"/>
<circle cx="161.0" cy="719.7" r="2.7" fill="#000" fill-opacity="0.210" stroke="#000" stroke-opacity="0.210" stroke-width="0.6"/>
<circle cx="180.1" cy="642.8" r="2.7" fill="#000" fill-opacity="0.405" stroke="#000" stroke-opacity="0.405" stroke-width="0.6"/>
<circle cx="180.1" cy="689.0" r="2.7" fill="#000" fill-opacity="0.405" stroke="#000" stroke-opacity="0.405" stroke-width="0.6"/>
<circle cx="180.1" cy="697.9" r="2.7" fill="#000" fill-opacity="0.210" stroke="#000" stroke-opacity="0.210" stroke-width="0.6"/>
<circle cx="180.1" cy="719.6" r="2.7" fill="#000" fill-opacity="0.551" stroke="#000" stroke-opacity="0.551" stroke-width="0.6"/>
<circle cx="199.3" cy="565.7" r="2.7" fill="#000" fill-opacity="0.405" stroke="#000" stroke-opacity="0.405" stroke-width="0.6"/>
<circle cx="199.3" cy="642.8" r="2.7" fill="#000" fill-opacity="0.210" stroke="#000" stroke-opacity="0.210" stroke-width="0.6"/>
<circle cx="199.3" cy="668.4" r="2.7" fill="#000" fill-opacity="0.210" stroke="#000" stroke-opacity="0.210" stroke-width="0.6"/>
<circle cx="199.3" cy="719.6" r="2.7" fill="#000" fill-opacity="0.405" stroke="#000" stroke-opacity="0.405" stroke-width="0.6"/>
<circle cx="218.5" cy="565.7" r="2.7" fill="#000" fill-opacity="0.210" stroke="#000" stroke-opacity="0.210" stroke-width="0.6"/>
<circle cx="218.5" cy="668.4" r="2.7" fill="#000" fill-opacity="0.210" stroke="#000" stroke-opacity="0.210" stroke-width="0.6"/>
<circle cx="218.5" cy="719.6" r="2.7" fill="#000" fill-opacity="0.551" stroke="#000" stroke-opacity="0.551" stroke-width="0.6"/>
<circle cx="237.7" cy="565.7" r="2.7" fill="#000" fill-opacity="0.210" stroke="#000" stroke-opacity="0.210" stroke-width="0.6"/>
<circle cx="237.7" cy="719.6" r="2.7" fill="#000" fill-opacity="0.551" stroke="#000" stroke-opacity="0.551" stroke-width="0.6"/>
<circle cx="256.8" cy="565.7" r="2.7" fill="#000" fill-opacity="0.405" stroke="#000" stroke-opacity="0.405" stroke-width="0.6"/>
<circle cx="256.8" cy="642.8" r="2.7" fill="#000" fill-opacity="0.210" stroke="#000" stroke-opacity="0.210" stroke-width="0.6"/>
<circle cx="256.8" cy="719.6" r="2.7" fill="#000" fill-opacity="0.405" stroke="#000" stroke-opacity="0.405" stroke-width="0.6"/>
<line x1="76.43" y1="710.77" x2="264.90" y2="558.90" stroke="#5a5a5a" stroke-width="1.35" stroke-dasharray="6,5.95" stroke-dashoffset="0.6"/>
<path d="M84.29,712.62 C85.38,711.69 88.64,708.73 90.81,707.06 C92.98,705.38 95.15,703.94 97.33,702.58 C99.50,701.21 101.64,700.03 103.85,698.87 C106.05,697.71 108.35,696.66 110.56,695.63 C112.76,694.60 114.90,693.57 117.07,692.69 C119.25,691.82 121.42,691.07 123.59,690.37 C125.76,689.68 127.91,689.11 130.11,688.52 C132.31,687.93 134.61,687.31 136.82,686.82 C139.02,686.33 141.42,685.84 143.34,685.59 C145.25,685.33 146.41,685.28 148.32,685.28 C150.24,685.28 152.92,685.66 154.84,685.59 C156.76,685.51 158.20,685.28 159.82,684.81 C161.45,684.35 162.99,683.53 164.62,682.80 C166.25,682.08 167.72,681.26 169.60,680.49 C171.49,679.72 174.14,678.71 175.93,678.17 C177.72,677.63 178.39,677.32 180.34,677.24 C182.29,677.17 184.43,677.48 187.62,677.71 C190.82,677.94 195.90,678.53 199.51,678.63 C203.12,678.74 206.03,678.69 209.29,678.32 C212.54,677.96 215.80,677.40 219.06,676.47 C222.32,675.54 225.77,674.10 228.84,672.76 C231.91,671.42 234.59,670.03 237.47,668.44 C240.34,666.84 242.87,665.25 246.09,663.19 C249.32,661.13 255.04,657.26 256.83,656.08" fill="none" stroke="#f00" stroke-width="3.1" stroke-linejoin="round" stroke-linecap="butt"/>
</g>
<rect x="76.43" y="558.25" width="188.47" height="168.86" fill="none" stroke="#444" stroke-width="1.3"/>
<g clip-path="url(#cp31)">
<path d="M290.22,699.64 C290.83,698.61 292.65,695.42 293.86,693.46 C295.08,691.51 295.97,689.16 297.51,687.90 C299.04,686.64 301.72,686.33 303.07,685.89 C304.41,685.46 304.44,685.89 305.56,685.28 C306.68,684.66 308.24,683.55 309.78,682.19 C311.31,680.82 313.23,678.35 314.76,677.09 C316.29,675.83 317.60,675.11 318.98,674.62 C320.35,674.13 321.66,673.56 323.00,674.15 C324.35,674.75 325.85,676.47 327.03,678.17 C328.21,679.87 329.59,683.32 330.10,684.35 L330.10,716.94 C329.59,716.28 328.21,714.29 327.03,712.93 C325.85,711.56 324.35,709.79 323.00,708.76 C321.66,707.73 320.35,707.24 318.98,706.75 C317.60,706.26 316.13,705.90 314.76,705.82 C313.39,705.75 312.08,705.87 310.73,706.29 C309.39,706.70 308.08,707.37 306.71,708.29 C305.33,709.22 304.22,710.66 302.49,711.85 C300.77,713.03 298.40,714.37 296.36,715.40 C294.31,716.43 291.24,717.59 290.22,718.03Z" fill="#999" fill-opacity="0.4"/>
<circle cx="282.4" cy="714.9" r="2.7" fill="#000" fill-opacity="0.930" stroke="#000" stroke-opacity="0.930" stroke-width="0.6"/>
<circle cx="301.5" cy="696.1" r="2.7" fill="#000" fill-opacity="0.405" stroke="#000" stroke-opacity="0.405" stroke-width="0.6"/>
<circle cx="301.5" cy="701.2" r="2.7" fill="#000" fill-opacity="0.483" stroke="#000" stroke-opacity="0.483" stroke-width="0.6"/>
<circle cx="320.7" cy="603.6" r="2.7" fill="#000" fill-opacity="0.210" stroke="#000" stroke-opacity="0.210" stroke-width="0.6"/>
<circle cx="320.7" cy="680.8" r="2.7" fill="#000" fill-opacity="0.210" stroke="#000" stroke-opacity="0.210" stroke-width="0.6"/>
<circle cx="320.7" cy="703.2" r="2.7" fill="#000" fill-opacity="0.210" stroke="#000" stroke-opacity="0.210" stroke-width="0.6"/>
<circle cx="320.7" cy="720.0" r="2.7" fill="#000" fill-opacity="0.405" stroke="#000" stroke-opacity="0.405" stroke-width="0.6"/>
<circle cx="339.9" cy="720.0" r="2.7" fill="#000" fill-opacity="0.314" stroke="#000" stroke-opacity="0.314" stroke-width="0.6"/>
<line x1="274.50" y1="710.77" x2="462.97" y2="558.90" stroke="#5a5a5a" stroke-width="1.35" stroke-dasharray="6,5.95" stroke-dashoffset="0.6"/>
<path d="M282.36,714.94 C283.35,713.91 286.29,710.97 288.30,708.76 C290.32,706.54 292.39,703.25 294.44,701.65 C296.48,700.06 298.72,699.85 300.57,699.18 C302.43,698.51 303.86,698.48 305.56,697.63 C307.25,696.79 308.85,695.29 310.73,694.08 C312.62,692.87 315.18,690.89 316.87,690.37 C318.56,689.86 319.36,689.96 320.89,690.99 C322.43,692.02 324.35,694.26 326.07,696.55 C327.80,698.84 329.55,702.01 331.25,704.74 C332.94,707.47 334.79,710.53 336.23,712.93 C337.67,715.32 339.27,718.08 339.87,719.11" fill="none" stroke="#f00" stroke-width="3.1" stroke-linejoin="round" stroke-linecap="butt"/>
</g>
<rect x="274.50" y="558.25" width="188.47" height="168.86" fill="none" stroke="#444" stroke-width="1.3"/>
<g clip-path="url(#cp32)">
<path d="M491.36,689.60 C492.70,688.68 496.44,685.92 499.41,684.04 C502.38,682.16 505.96,680.08 509.19,678.32 C512.41,676.57 515.55,674.87 518.77,673.54 C522.00,672.20 525.58,671.01 528.55,670.29 C531.52,669.57 533.63,669.21 536.60,669.21 C539.57,669.21 543.15,669.70 546.38,670.29 C549.61,670.88 552.74,671.71 555.96,672.76 C559.19,673.82 563.41,675.98 565.74,676.63 C568.07,677.27 567.85,677.35 569.96,676.63 C572.07,675.90 575.58,674.18 578.39,672.30 C581.21,670.42 584.02,668.03 586.83,665.35 C589.64,662.67 592.49,659.50 595.27,656.23 C598.05,652.96 600.73,649.36 603.51,645.73 C606.29,642.10 609.13,638.57 611.94,634.45 C614.76,630.33 617.79,625.18 620.38,621.01 C622.97,616.84 625.27,613.93 627.47,609.43 C629.68,604.92 631.21,599.69 633.61,593.98 C636.00,588.26 640.48,578.27 641.85,575.13 L641.85,635.22 C641.08,635.92 639.42,637.54 637.25,639.40 C635.08,641.25 631.63,643.54 628.81,646.35 C626.00,649.15 623.19,652.73 620.38,656.23 C617.57,659.74 614.76,663.62 611.94,667.36 C609.13,671.09 606.29,675.00 603.51,678.63 C600.73,682.26 598.05,686.13 595.27,689.14 C592.49,692.15 589.64,694.49 586.83,696.71 C584.02,698.92 581.21,700.78 578.39,702.42 C575.58,704.07 572.07,706.26 569.96,706.59 C567.85,706.93 567.79,705.51 565.74,704.43 C563.70,703.35 560.66,701.21 557.69,700.11 C554.72,699.00 551.17,698.18 547.91,697.79 C544.65,697.40 541.36,697.53 538.14,697.79 C534.91,698.05 531.78,698.41 528.55,699.33 C525.32,700.26 522.00,701.99 518.77,703.35 C515.55,704.72 512.41,706.03 509.19,707.52 C505.96,709.01 502.38,710.84 499.41,712.31 C496.44,713.78 492.70,715.66 491.36,716.33Z" fill="#999" fill-opacity="0.4"/>
<circle cx="480.4" cy="714.3" r="2.7" fill="#000" fill-opacity="0.930" stroke="#000" stroke-opacity="0.930" stroke-width="0.6"/>
<circle cx="499.6" cy="688.7" r="2.7" fill="#000" fill-opacity="0.210" stroke="#000" stroke-opacity="0.210" stroke-width="0.6"/>
<circle cx="499.6" cy="695.6" r="2.7" fill="#000" fill-opacity="0.405" stroke="#000" stroke-opacity="0.405" stroke-width="0.6"/>
<circle cx="499.6" cy="699.0" r="2.7" fill="#000" fill-opacity="0.314" stroke="#000" stroke-opacity="0.314" stroke-width="0.6"/>
<circle cx="499.6" cy="702.6" r="2.7" fill="#000" fill-opacity="0.405" stroke="#000" stroke-opacity="0.405" stroke-width="0.6"/>
<circle cx="518.8" cy="666.6" r="2.7" fill="#000" fill-opacity="0.210" stroke="#000" stroke-opacity="0.210" stroke-width="0.6"/>
<circle cx="518.8" cy="678.5" r="2.7" fill="#000" fill-opacity="0.405" stroke="#000" stroke-opacity="0.405" stroke-width="0.6"/>
<circle cx="518.8" cy="685.1" r="2.7" fill="#000" fill-opacity="0.210" stroke="#000" stroke-opacity="0.210" stroke-width="0.6"/>
<circle cx="518.8" cy="692.8" r="2.7" fill="#000" fill-opacity="0.405" stroke="#000" stroke-opacity="0.405" stroke-width="0.6"/>
<circle cx="518.8" cy="695.6" r="2.7" fill="#000" fill-opacity="0.314" stroke="#000" stroke-opacity="0.314" stroke-width="0.6"/>
<circle cx="537.9" cy="650.7" r="2.7" fill="#000" fill-opacity="0.210" stroke="#000" stroke-opacity="0.210" stroke-width="0.6"/>
<circle cx="537.9" cy="658.2" r="2.7" fill="#000" fill-opacity="0.210" stroke="#000" stroke-opacity="0.210" stroke-width="0.6"/>
<circle cx="537.9" cy="674.0" r="2.7" fill="#000" fill-opacity="0.210" stroke="#000" stroke-opacity="0.210" stroke-width="0.6"/>
<circle cx="537.9" cy="678.5" r="2.7" fill="#000" fill-opacity="0.314" stroke="#000" stroke-opacity="0.314" stroke-width="0.6"/>
<circle cx="537.9" cy="685.1" r="2.7" fill="#000" fill-opacity="0.314" stroke="#000" stroke-opacity="0.314" stroke-width="0.6"/>
<circle cx="537.9" cy="692.4" r="2.7" fill="#000" fill-opacity="0.405" stroke="#000" stroke-opacity="0.405" stroke-width="0.6"/>
<circle cx="537.9" cy="700.7" r="2.7" fill="#000" fill-opacity="0.405" stroke="#000" stroke-opacity="0.405" stroke-width="0.6"/>
<circle cx="537.9" cy="706.0" r="2.7" fill="#000" fill-opacity="0.210" stroke="#000" stroke-opacity="0.210" stroke-width="0.6"/>
<circle cx="557.1" cy="642.5" r="2.7" fill="#000" fill-opacity="0.210" stroke="#000" stroke-opacity="0.210" stroke-width="0.6"/>
<circle cx="557.1" cy="668.4" r="2.7" fill="#000" fill-opacity="0.210" stroke="#000" stroke-opacity="0.210" stroke-width="0.6"/>
<circle cx="557.1" cy="677.7" r="2.7" fill="#000" fill-opacity="0.314" stroke="#000" stroke-opacity="0.314" stroke-width="0.6"/>
<circle cx="557.1" cy="681.3" r="2.7" fill="#000" fill-opacity="0.405" stroke="#000" stroke-opacity="0.405" stroke-width="0.6"/>
<circle cx="557.1" cy="689.6" r="2.7" fill="#000" fill-opacity="0.210" stroke="#000" stroke-opacity="0.210" stroke-width="0.6"/>
<circle cx="557.1" cy="697.9" r="2.7" fill="#000" fill-opacity="0.210" stroke="#000" stroke-opacity="0.210" stroke-width="0.6"/>
<circle cx="557.1" cy="702.6" r="2.7" fill="#000" fill-opacity="0.210" stroke="#000" stroke-opacity="0.210" stroke-width="0.6"/>
<circle cx="557.1" cy="719.7" r="2.7" fill="#000" fill-opacity="0.210" stroke="#000" stroke-opacity="0.210" stroke-width="0.6"/>
<circle cx="576.3" cy="642.5" r="2.7" fill="#000" fill-opacity="0.210" stroke="#000" stroke-opacity="0.210" stroke-width="0.6"/>
<circle cx="576.3" cy="668.4" r="2.7" fill="#000" fill-opacity="0.405" stroke="#000" stroke-opacity="0.405" stroke-width="0.6"/>
<circle cx="576.3" cy="681.3" r="2.7" fill="#000" fill-opacity="0.210" stroke="#000" stroke-opacity="0.210" stroke-width="0.6"/>
<circle cx="576.3" cy="719.7" r="2.7" fill="#000" fill-opacity="0.610" stroke="#000" stroke-opacity="0.610" stroke-width="0.6"/>
<circle cx="595.5" cy="642.5" r="2.7" fill="#000" fill-opacity="0.210" stroke="#000" stroke-opacity="0.210" stroke-width="0.6"/>
<circle cx="595.5" cy="668.4" r="2.7" fill="#000" fill-opacity="0.210" stroke="#000" stroke-opacity="0.210" stroke-width="0.6"/>
<circle cx="595.5" cy="719.7" r="2.7" fill="#000" fill-opacity="0.610" stroke="#000" stroke-opacity="0.610" stroke-width="0.6"/>
<circle cx="614.6" cy="565.2" r="2.7" fill="#000" fill-opacity="0.551" stroke="#000" stroke-opacity="0.551" stroke-width="0.6"/>
<circle cx="614.6" cy="642.5" r="2.7" fill="#000" fill-opacity="0.405" stroke="#000" stroke-opacity="0.405" stroke-width="0.6"/>
<circle cx="614.6" cy="681.3" r="2.7" fill="#000" fill-opacity="0.210" stroke="#000" stroke-opacity="0.210" stroke-width="0.6"/>
<circle cx="633.8" cy="565.2" r="2.7" fill="#000" fill-opacity="0.210" stroke="#000" stroke-opacity="0.210" stroke-width="0.6"/>
<circle cx="633.8" cy="719.7" r="2.7" fill="#000" fill-opacity="0.405" stroke="#000" stroke-opacity="0.405" stroke-width="0.6"/>
<circle cx="653.0" cy="565.2" r="2.7" fill="#000" fill-opacity="0.210" stroke="#000" stroke-opacity="0.210" stroke-width="0.6"/>
<line x1="472.57" y1="710.77" x2="661.04" y2="558.90" stroke="#5a5a5a" stroke-width="1.35" stroke-dasharray="6,5.95" stroke-dashoffset="0.6"/>
<path d="M480.43,713.86 C481.71,712.26 485.48,707.08 488.10,704.28 C490.72,701.47 493.44,699.18 496.15,697.02 C498.87,694.85 501.68,692.92 504.39,691.30 C507.11,689.68 509.76,688.44 512.45,687.28 C515.13,686.13 517.81,685.10 520.50,684.35 C523.18,683.60 525.61,683.06 528.55,682.80 C531.49,682.55 535.16,682.60 538.14,682.80 C541.11,683.01 543.41,683.42 546.38,684.04 C549.35,684.66 553.03,685.43 555.96,686.51 C558.90,687.59 561.68,689.40 564.02,690.53 C566.35,691.66 568.39,692.92 569.96,693.31 C571.53,693.70 572.00,693.39 573.41,692.85 C574.82,692.31 576.16,691.74 578.39,690.07 C580.63,688.39 584.02,685.53 586.83,682.80 C589.64,680.08 592.49,676.96 595.27,673.69 C598.05,670.42 600.73,667.05 603.51,663.19 C606.29,659.32 609.13,654.95 611.94,650.52 C614.76,646.09 617.57,641.15 620.38,636.62 C623.19,632.08 626.26,627.53 628.81,623.33 C631.37,619.13 633.38,615.53 635.72,611.44 C638.05,607.34 639.93,603.89 642.81,598.77 C645.69,593.64 651.28,583.71 652.97,580.69" fill="none" stroke="#f00" stroke-width="3.1" stroke-linejoin="round" stroke-linecap="butt"/>
</g>
<rect x="472.57" y="558.25" width="188.47" height="168.86" fill="none" stroke="#444" stroke-width="1.3"/>
<line x1="64.8" y1="184.89" x2="76.43" y2="184.89" stroke="#000" stroke-width="1.5"/>
<text x="62.00" y="191.69" font-size="18.1" text-anchor="end" fill="#000">0.00</text>
<line x1="64.8" y1="146.27" x2="76.43" y2="146.27" stroke="#000" stroke-width="1.5"/>
<text x="62.00" y="153.07" font-size="18.1" text-anchor="end" fill="#000">0.25</text>
<line x1="64.8" y1="107.65" x2="76.43" y2="107.65" stroke="#000" stroke-width="1.5"/>
<text x="62.00" y="114.45" font-size="18.1" text-anchor="end" fill="#000">0.50</text>
<line x1="64.8" y1="69.03" x2="76.43" y2="69.03" stroke="#000" stroke-width="1.5"/>
<text x="62.00" y="75.83" font-size="18.1" text-anchor="end" fill="#000">0.75</text>
<line x1="64.8" y1="30.41" x2="76.43" y2="30.41" stroke="#000" stroke-width="1.5"/>
<path transform="translate(26.77,37.21) scale(0.00884,-0.00884)" d="M530 0V1237L197 1010V1180L530 1409H696V0Z" fill="#000"/>
<text x="36.84" y="37.21" font-size="18.1" fill="#000">.00</text>
<line x1="64.8" y1="363.22" x2="76.43" y2="363.22" stroke="#000" stroke-width="1.5"/>
<text x="62.00" y="370.02" font-size="18.1" text-anchor="end" fill="#000">0.00</text>
<line x1="64.8" y1="324.60" x2="76.43" y2="324.60" stroke="#000" stroke-width="1.5"/>
<text x="62.00" y="331.40" font-size="18.1" text-anchor="end" fill="#000">0.25</text>
<line x1="64.8" y1="285.98" x2="76.43" y2="285.98" stroke="#000" stroke-width="1.5"/>
<text x="62.00" y="292.78" font-size="18.1" text-anchor="end" fill="#000">0.50</text>
<line x1="64.8" y1="247.36" x2="76.43" y2="247.36" stroke="#000" stroke-width="1.5"/>
<text x="62.00" y="254.16" font-size="18.1" text-anchor="end" fill="#000">0.75</text>
<line x1="64.8" y1="208.74" x2="76.43" y2="208.74" stroke="#000" stroke-width="1.5"/>
<path transform="translate(26.77,215.54) scale(0.00884,-0.00884)" d="M530 0V1237L197 1010V1180L530 1409H696V0Z" fill="#000"/>
<text x="36.84" y="215.54" font-size="18.1" fill="#000">.00</text>
<line x1="64.8" y1="541.55" x2="76.43" y2="541.55" stroke="#000" stroke-width="1.5"/>
<text x="62.00" y="548.35" font-size="18.1" text-anchor="end" fill="#000">0.00</text>
<line x1="64.8" y1="502.93" x2="76.43" y2="502.93" stroke="#000" stroke-width="1.5"/>
<text x="62.00" y="509.73" font-size="18.1" text-anchor="end" fill="#000">0.25</text>
<line x1="64.8" y1="464.31" x2="76.43" y2="464.31" stroke="#000" stroke-width="1.5"/>
<text x="62.00" y="471.11" font-size="18.1" text-anchor="end" fill="#000">0.50</text>
<line x1="64.8" y1="425.69" x2="76.43" y2="425.69" stroke="#000" stroke-width="1.5"/>
<text x="62.00" y="432.49" font-size="18.1" text-anchor="end" fill="#000">0.75</text>
<line x1="64.8" y1="387.07" x2="76.43" y2="387.07" stroke="#000" stroke-width="1.5"/>
<path transform="translate(26.77,393.87) scale(0.00884,-0.00884)" d="M530 0V1237L197 1010V1180L530 1409H696V0Z" fill="#000"/>
<text x="36.84" y="393.87" font-size="18.1" fill="#000">.00</text>
<line x1="64.8" y1="719.88" x2="76.43" y2="719.88" stroke="#000" stroke-width="1.5"/>
<text x="62.00" y="726.68" font-size="18.1" text-anchor="end" fill="#000">0.00</text>
<line x1="64.8" y1="681.26" x2="76.43" y2="681.26" stroke="#000" stroke-width="1.5"/>
<text x="62.00" y="688.06" font-size="18.1" text-anchor="end" fill="#000">0.25</text>
<line x1="64.8" y1="642.64" x2="76.43" y2="642.64" stroke="#000" stroke-width="1.5"/>
<text x="62.00" y="649.44" font-size="18.1" text-anchor="end" fill="#000">0.50</text>
<line x1="64.8" y1="604.02" x2="76.43" y2="604.02" stroke="#000" stroke-width="1.5"/>
<text x="62.00" y="610.82" font-size="18.1" text-anchor="end" fill="#000">0.75</text>
<line x1="64.8" y1="565.40" x2="76.43" y2="565.40" stroke="#000" stroke-width="1.5"/>
<path transform="translate(26.77,572.20) scale(0.00884,-0.00884)" d="M530 0V1237L197 1010V1180L530 1409H696V0Z" fill="#000"/>
<text x="36.84" y="572.20" font-size="18.1" fill="#000">.00</text>
<line x1="113.05" y1="727.11" x2="113.05" y2="738.31" stroke="#000" stroke-width="1.5"/>
<text x="113.05" y="755.11" font-size="18.1" text-anchor="middle" fill="#000">0.25</text>
<line x1="160.98" y1="727.11" x2="160.98" y2="738.31" stroke="#000" stroke-width="1.5"/>
<text x="160.98" y="755.11" font-size="18.1" text-anchor="middle" fill="#000">0.50</text>
<line x1="208.90" y1="727.11" x2="208.90" y2="738.31" stroke="#000" stroke-width="1.5"/>
<text x="208.90" y="755.11" font-size="18.1" text-anchor="middle" fill="#000">0.75</text>
<line x1="256.83" y1="727.11" x2="256.83" y2="738.31" stroke="#000" stroke-width="1.5"/>
<path transform="translate(239.22,755.11) scale(0.00884,-0.00884)" d="M530 0V1237L197 1010V1180L530 1409H696V0Z" fill="#000"/>
<text x="249.28" y="755.11" font-size="18.1" fill="#000">.00</text>
<line x1="311.12" y1="727.11" x2="311.12" y2="738.31" stroke="#000" stroke-width="1.5"/>
<text x="311.12" y="755.11" font-size="18.1" text-anchor="middle" fill="#000">0.25</text>
<line x1="359.05" y1="727.11" x2="359.05" y2="738.31" stroke="#000" stroke-width="1.5"/>
<text x="359.05" y="755.11" font-size="18.1" text-anchor="middle" fill="#000">0.50</text>
<line x1="406.97" y1="727.11" x2="406.97" y2="738.31" stroke="#000" stroke-width="1.5"/>
<text x="406.97" y="755.11" font-size="18.1" text-anchor="middle" fill="#000">0.75</text>
<line x1="454.90" y1="727.11" x2="454.90" y2="738.31" stroke="#000" stroke-width="1.5"/>
<path transform="translate(437.29,755.11) scale(0.00884,-0.00884)" d="M530 0V1237L197 1010V1180L530 1409H696V0Z" fill="#000"/>
<text x="447.35" y="755.11" font-size="18.1" fill="#000">.00</text>
<line x1="509.19" y1="727.11" x2="509.19" y2="738.31" stroke="#000" stroke-width="1.5"/>
<text x="509.19" y="755.11" font-size="18.1" text-anchor="middle" fill="#000">0.25</text>
<line x1="557.12" y1="727.11" x2="557.12" y2="738.31" stroke="#000" stroke-width="1.5"/>
<text x="557.12" y="755.11" font-size="18.1" text-anchor="middle" fill="#000">0.50</text>
<line x1="605.04" y1="727.11" x2="605.04" y2="738.31" stroke="#000" stroke-width="1.5"/>
<text x="605.04" y="755.11" font-size="18.1" text-anchor="middle" fill="#000">0.75</text>
<line x1="652.97" y1="727.11" x2="652.97" y2="738.31" stroke="#000" stroke-width="1.5"/>
<path transform="translate(635.36,755.11) scale(0.00884,-0.00884)" d="M530 0V1237L197 1010V1180L530 1409H696V0Z" fill="#000"/>
<text x="645.42" y="755.11" font-size="18.1" fill="#000">.00</text>
<text x="170.66" y="13.8" font-size="18.1" text-anchor="middle" fill="#000">Clinical</text>
<text x="368.74" y="13.8" font-size="18.1" text-anchor="middle" fill="#000">Demographic</text>
<text x="566.80" y="13.8" font-size="18.1" text-anchor="middle" fill="#000">Demographic+Clinical</text>
<text transform="translate(670.3,107.69) rotate(90)" font-size="18.1" text-anchor="middle" fill="#000">Hospitalization</text>
<text transform="translate(670.3,286.02) rotate(90)" font-size="18.1" text-anchor="middle" fill="#000">ICU</text>
<text transform="translate(670.3,464.35) rotate(90)" font-size="18.1" text-anchor="middle" fill="#000">Mortality</text>
<text transform="translate(670.3,642.68) rotate(90)" font-size="18.1" text-anchor="middle" fill="#000">Ventilation</text>
<text transform="translate(17.7,375.3) rotate(-90)" font-size="22.5" text-anchor="middle" fill="#000">true bin probability</text>
<text x="368.8" y="778.9" font-size="22.5" text-anchor="middle" fill="#000">predicted probability</text>
</g></svg></body></html>
